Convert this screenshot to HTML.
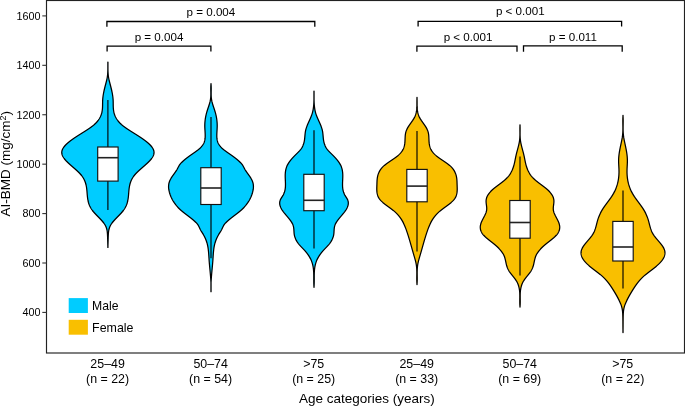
<!DOCTYPE html>
<html><head><meta charset="utf-8"><style>
html,body{margin:0;padding:0;background:#fff;}
body{width:685px;height:406px;overflow:hidden;}
svg{display:block;will-change:transform;font-family:"Liberation Sans",sans-serif;}
text{fill:#000;}
</style></head><body>
<svg width="685" height="406" viewBox="0 0 685 406">
<rect x="0" y="0" width="685" height="406" fill="#fff"/>
<path d="M107.94,62.00 L107.94,62.50 L107.94,63.00 L107.94,63.50 L107.94,64.00 L107.94,64.50 L107.94,65.00 L107.94,65.50 L107.94,66.00 L107.94,66.50 L107.94,67.00 L107.94,67.50 L107.94,68.00 L107.94,68.50 L107.94,69.00 L107.95,69.50 L107.96,70.00 L107.97,70.50 L107.98,71.00 L108.00,71.50 L108.02,72.00 L108.05,72.50 L108.08,73.00 L108.11,73.50 L108.15,74.00 L108.19,74.50 L108.24,75.00 L108.29,75.50 L108.35,76.00 L108.42,76.50 L108.49,77.00 L108.57,77.50 L108.66,78.00 L108.76,78.50 L108.86,79.00 L108.96,79.50 L109.07,80.00 L109.19,80.50 L109.31,81.00 L109.43,81.50 L109.56,82.00 L109.69,82.50 L109.82,83.00 L109.95,83.50 L110.08,84.00 L110.21,84.50 L110.34,85.00 L110.48,85.50 L110.61,86.00 L110.74,86.50 L110.86,87.00 L110.99,87.50 L111.11,88.00 L111.24,88.50 L111.36,89.00 L111.47,89.50 L111.59,90.00 L111.70,90.50 L111.81,91.00 L111.92,91.50 L112.02,92.00 L112.13,92.50 L112.22,93.00 L112.32,93.50 L112.41,94.00 L112.49,94.50 L112.57,95.00 L112.65,95.50 L112.72,96.00 L112.79,96.50 L112.85,97.00 L112.91,97.50 L112.97,98.00 L113.01,98.50 L113.05,99.00 L113.09,99.50 L113.12,100.00 L113.15,100.50 L113.16,101.00 L113.18,101.50 L113.19,102.00 L113.20,102.50 L113.20,103.00 L113.21,103.50 L113.21,104.00 L113.22,104.50 L113.22,105.00 L113.23,105.50 L113.24,106.00 L113.25,106.50 L113.27,107.00 L113.29,107.50 L113.32,108.00 L113.36,108.50 L113.40,109.00 L113.45,109.50 L113.51,110.00 L113.58,110.50 L113.66,111.00 L113.75,111.50 L113.85,112.00 L113.96,112.50 L114.09,113.00 L114.22,113.50 L114.38,114.00 L114.54,114.50 L114.72,115.00 L114.91,115.50 L115.12,116.00 L115.34,116.50 L115.58,117.00 L115.84,117.50 L116.11,118.00 L116.40,118.50 L116.71,119.00 L117.04,119.50 L117.38,120.00 L117.75,120.50 L118.13,121.00 L118.54,121.50 L118.96,122.00 L119.41,122.50 L119.88,123.00 L120.38,123.50 L120.90,124.00 L121.44,124.50 L122.01,125.00 L122.61,125.50 L123.23,126.00 L123.88,126.50 L124.55,127.00 L125.23,127.50 L125.94,128.00 L126.66,128.50 L127.40,129.00 L128.15,129.50 L128.92,130.00 L129.69,130.50 L130.47,131.00 L131.26,131.50 L132.06,132.00 L132.86,132.50 L133.66,133.00 L134.46,133.50 L135.26,134.00 L136.06,134.50 L136.85,135.00 L137.64,135.50 L138.42,136.00 L139.19,136.50 L139.95,137.00 L140.71,137.50 L141.45,138.00 L142.18,138.50 L142.90,139.00 L143.60,139.50 L144.29,140.00 L144.96,140.50 L145.62,141.00 L146.26,141.50 L146.88,142.00 L147.49,142.50 L148.07,143.00 L148.63,143.50 L149.17,144.00 L149.69,144.50 L150.18,145.00 L150.64,145.50 L151.09,146.00 L151.50,146.50 L151.89,147.00 L152.25,147.50 L152.57,148.00 L152.87,148.50 L153.14,149.00 L153.37,149.50 L153.57,150.00 L153.74,150.50 L153.87,151.00 L153.96,151.50 L154.02,152.00 L154.04,152.50 L154.02,153.00 L153.96,153.50 L153.87,154.00 L153.74,154.50 L153.58,155.00 L153.39,155.50 L153.16,156.00 L152.90,156.50 L152.62,157.00 L152.31,157.50 L151.97,158.00 L151.61,158.50 L151.23,159.00 L150.82,159.50 L150.39,160.00 L149.95,160.50 L149.49,161.00 L149.00,161.50 L148.51,162.00 L148.00,162.50 L147.48,163.00 L146.95,163.50 L146.40,164.00 L145.85,164.50 L145.29,165.00 L144.73,165.50 L144.16,166.00 L143.59,166.50 L143.01,167.00 L142.44,167.50 L141.87,168.00 L141.29,168.50 L140.73,169.00 L140.16,169.50 L139.60,170.00 L139.05,170.50 L138.51,171.00 L137.98,171.50 L137.46,172.00 L136.95,172.50 L136.46,173.00 L135.98,173.50 L135.52,174.00 L135.08,174.50 L134.65,175.00 L134.25,175.50 L133.87,176.00 L133.50,176.50 L133.16,177.00 L132.83,177.50 L132.52,178.00 L132.23,178.50 L131.95,179.00 L131.69,179.50 L131.45,180.00 L131.22,180.50 L131.01,181.00 L130.81,181.50 L130.62,182.00 L130.45,182.50 L130.28,183.00 L130.13,183.50 L129.99,184.00 L129.86,184.50 L129.74,185.00 L129.63,185.50 L129.53,186.00 L129.44,186.50 L129.35,187.00 L129.27,187.50 L129.20,188.00 L129.13,188.50 L129.07,189.00 L129.02,189.50 L128.96,190.00 L128.91,190.50 L128.87,191.00 L128.82,191.50 L128.78,192.00 L128.74,192.50 L128.70,193.00 L128.66,193.50 L128.62,194.00 L128.58,194.50 L128.54,195.00 L128.49,195.50 L128.45,196.00 L128.40,196.50 L128.34,197.00 L128.28,197.50 L128.22,198.00 L128.15,198.50 L128.07,199.00 L127.99,199.50 L127.90,200.00 L127.80,200.50 L127.70,201.00 L127.58,201.50 L127.46,202.00 L127.33,202.50 L127.18,203.00 L127.03,203.50 L126.86,204.00 L126.68,204.50 L126.48,205.00 L126.28,205.50 L126.06,206.00 L125.82,206.50 L125.57,207.00 L125.31,207.50 L125.02,208.00 L124.73,208.50 L124.41,209.00 L124.07,209.50 L123.72,210.00 L123.35,210.50 L122.96,211.00 L122.56,211.50 L122.13,212.00 L121.70,212.50 L121.26,213.00 L120.80,213.50 L120.33,214.00 L119.86,214.50 L119.38,215.00 L118.90,215.50 L118.41,216.00 L117.92,216.50 L117.43,217.00 L116.94,217.50 L116.46,218.00 L115.98,218.50 L115.50,219.00 L115.03,219.50 L114.57,220.00 L114.12,220.50 L113.68,221.00 L113.25,221.50 L112.83,222.00 L112.43,222.50 L112.05,223.00 L111.69,223.50 L111.34,224.00 L111.02,224.50 L110.72,225.00 L110.44,225.50 L110.19,226.00 L109.95,226.50 L109.74,227.00 L109.55,227.50 L109.38,228.00 L109.22,228.50 L109.08,229.00 L108.96,229.50 L108.85,230.00 L108.75,230.50 L108.67,231.00 L108.59,231.50 L108.53,232.00 L108.47,232.50 L108.43,233.00 L108.39,233.50 L108.35,234.00 L108.32,234.50 L108.29,235.00 L108.27,235.50 L108.24,236.00 L108.22,236.50 L108.20,237.00 L108.18,237.50 L108.17,238.00 L108.15,238.50 L108.14,239.00 L108.12,239.50 L108.11,240.00 L108.10,240.50 L108.09,241.00 L108.07,241.50 L108.06,242.00 L108.05,242.50 L108.03,243.00 L108.02,243.50 L108.01,244.00 L107.99,244.50 L107.97,245.00 L107.96,245.50 L107.94,246.00 L107.94,246.50 L107.94,247.00 L107.94,247.40 L107.86,247.40 L107.86,247.00 L107.86,246.50 L107.86,246.00 L107.84,245.50 L107.83,245.00 L107.81,244.50 L107.79,244.00 L107.78,243.50 L107.77,243.00 L107.75,242.50 L107.74,242.00 L107.73,241.50 L107.71,241.00 L107.70,240.50 L107.69,240.00 L107.68,239.50 L107.66,239.00 L107.65,238.50 L107.63,238.00 L107.62,237.50 L107.60,237.00 L107.58,236.50 L107.56,236.00 L107.53,235.50 L107.51,235.00 L107.48,234.50 L107.45,234.00 L107.41,233.50 L107.37,233.00 L107.33,232.50 L107.27,232.00 L107.21,231.50 L107.13,231.00 L107.05,230.50 L106.95,230.00 L106.84,229.50 L106.72,229.00 L106.58,228.50 L106.42,228.00 L106.25,227.50 L106.06,227.00 L105.85,226.50 L105.61,226.00 L105.36,225.50 L105.08,225.00 L104.78,224.50 L104.46,224.00 L104.11,223.50 L103.75,223.00 L103.37,222.50 L102.97,222.00 L102.55,221.50 L102.12,221.00 L101.68,220.50 L101.23,220.00 L100.77,219.50 L100.30,219.00 L99.82,218.50 L99.34,218.00 L98.86,217.50 L98.37,217.00 L97.88,216.50 L97.39,216.00 L96.90,215.50 L96.42,215.00 L95.94,214.50 L95.47,214.00 L95.00,213.50 L94.54,213.00 L94.10,212.50 L93.67,212.00 L93.24,211.50 L92.84,211.00 L92.45,210.50 L92.08,210.00 L91.73,209.50 L91.39,209.00 L91.07,208.50 L90.78,208.00 L90.49,207.50 L90.23,207.00 L89.98,206.50 L89.74,206.00 L89.52,205.50 L89.32,205.00 L89.12,204.50 L88.94,204.00 L88.77,203.50 L88.62,203.00 L88.47,202.50 L88.34,202.00 L88.22,201.50 L88.10,201.00 L88.00,200.50 L87.90,200.00 L87.81,199.50 L87.73,199.00 L87.65,198.50 L87.58,198.00 L87.52,197.50 L87.46,197.00 L87.40,196.50 L87.35,196.00 L87.31,195.50 L87.26,195.00 L87.22,194.50 L87.18,194.00 L87.14,193.50 L87.10,193.00 L87.06,192.50 L87.02,192.00 L86.98,191.50 L86.93,191.00 L86.89,190.50 L86.84,190.00 L86.78,189.50 L86.73,189.00 L86.67,188.50 L86.60,188.00 L86.53,187.50 L86.45,187.00 L86.36,186.50 L86.27,186.00 L86.17,185.50 L86.06,185.00 L85.94,184.50 L85.81,184.00 L85.67,183.50 L85.52,183.00 L85.35,182.50 L85.18,182.00 L84.99,181.50 L84.79,181.00 L84.58,180.50 L84.35,180.00 L84.11,179.50 L83.85,179.00 L83.57,178.50 L83.28,178.00 L82.97,177.50 L82.64,177.00 L82.30,176.50 L81.93,176.00 L81.55,175.50 L81.15,175.00 L80.72,174.50 L80.28,174.00 L79.82,173.50 L79.34,173.00 L78.85,172.50 L78.34,172.00 L77.82,171.50 L77.29,171.00 L76.75,170.50 L76.20,170.00 L75.64,169.50 L75.07,169.00 L74.51,168.50 L73.93,168.00 L73.36,167.50 L72.79,167.00 L72.21,166.50 L71.64,166.00 L71.07,165.50 L70.51,165.00 L69.95,164.50 L69.40,164.00 L68.85,163.50 L68.32,163.00 L67.80,162.50 L67.29,162.00 L66.80,161.50 L66.31,161.00 L65.85,160.50 L65.41,160.00 L64.98,159.50 L64.57,159.00 L64.19,158.50 L63.83,158.00 L63.49,157.50 L63.18,157.00 L62.90,156.50 L62.64,156.00 L62.41,155.50 L62.22,155.00 L62.06,154.50 L61.93,154.00 L61.84,153.50 L61.78,153.00 L61.76,152.50 L61.78,152.00 L61.84,151.50 L61.93,151.00 L62.06,150.50 L62.23,150.00 L62.43,149.50 L62.66,149.00 L62.93,148.50 L63.23,148.00 L63.55,147.50 L63.91,147.00 L64.30,146.50 L64.71,146.00 L65.16,145.50 L65.62,145.00 L66.11,144.50 L66.63,144.00 L67.17,143.50 L67.73,143.00 L68.31,142.50 L68.92,142.00 L69.54,141.50 L70.18,141.00 L70.84,140.50 L71.51,140.00 L72.20,139.50 L72.90,139.00 L73.62,138.50 L74.35,138.00 L75.09,137.50 L75.85,137.00 L76.61,136.50 L77.38,136.00 L78.16,135.50 L78.95,135.00 L79.74,134.50 L80.54,134.00 L81.34,133.50 L82.14,133.00 L82.94,132.50 L83.74,132.00 L84.54,131.50 L85.33,131.00 L86.11,130.50 L86.88,130.00 L87.65,129.50 L88.40,129.00 L89.14,128.50 L89.86,128.00 L90.57,127.50 L91.25,127.00 L91.92,126.50 L92.57,126.00 L93.19,125.50 L93.79,125.00 L94.36,124.50 L94.90,124.00 L95.42,123.50 L95.92,123.00 L96.39,122.50 L96.84,122.00 L97.26,121.50 L97.67,121.00 L98.05,120.50 L98.42,120.00 L98.76,119.50 L99.09,119.00 L99.40,118.50 L99.69,118.00 L99.96,117.50 L100.22,117.00 L100.46,116.50 L100.68,116.00 L100.89,115.50 L101.08,115.00 L101.26,114.50 L101.42,114.00 L101.58,113.50 L101.71,113.00 L101.84,112.50 L101.95,112.00 L102.05,111.50 L102.14,111.00 L102.22,110.50 L102.29,110.00 L102.35,109.50 L102.40,109.00 L102.44,108.50 L102.48,108.00 L102.51,107.50 L102.53,107.00 L102.55,106.50 L102.56,106.00 L102.57,105.50 L102.58,105.00 L102.58,104.50 L102.59,104.00 L102.59,103.50 L102.60,103.00 L102.60,102.50 L102.61,102.00 L102.62,101.50 L102.64,101.00 L102.65,100.50 L102.68,100.00 L102.71,99.50 L102.75,99.00 L102.79,98.50 L102.83,98.00 L102.89,97.50 L102.95,97.00 L103.01,96.50 L103.08,96.00 L103.15,95.50 L103.23,95.00 L103.31,94.50 L103.39,94.00 L103.48,93.50 L103.58,93.00 L103.67,92.50 L103.78,92.00 L103.88,91.50 L103.99,91.00 L104.10,90.50 L104.21,90.00 L104.33,89.50 L104.44,89.00 L104.56,88.50 L104.69,88.00 L104.81,87.50 L104.94,87.00 L105.06,86.50 L105.19,86.00 L105.32,85.50 L105.46,85.00 L105.59,84.50 L105.72,84.00 L105.85,83.50 L105.98,83.00 L106.11,82.50 L106.24,82.00 L106.37,81.50 L106.49,81.00 L106.61,80.50 L106.73,80.00 L106.84,79.50 L106.94,79.00 L107.04,78.50 L107.14,78.00 L107.23,77.50 L107.31,77.00 L107.38,76.50 L107.45,76.00 L107.51,75.50 L107.56,75.00 L107.61,74.50 L107.65,74.00 L107.69,73.50 L107.72,73.00 L107.75,72.50 L107.78,72.00 L107.80,71.50 L107.82,71.00 L107.83,70.50 L107.84,70.00 L107.85,69.50 L107.86,69.00 L107.86,68.50 L107.86,68.00 L107.86,67.50 L107.86,67.00 L107.86,66.50 L107.86,66.00 L107.86,65.50 L107.86,65.00 L107.86,64.50 L107.86,64.00 L107.86,63.50 L107.86,63.00 L107.86,62.50 L107.86,62.00 Z" fill="#00CCFF" stroke="#000" stroke-width="1.25" stroke-linejoin="round"/>
<line x1="107.90" y1="100.10" x2="107.90" y2="209.90" stroke="#000" stroke-width="1.15"/>
<rect x="97.70" y="147.00" width="20.40" height="34.10" fill="#fff" stroke="#111" stroke-width="1.15"/>
<line x1="97.70" y1="157.70" x2="118.10" y2="157.70" stroke="#222" stroke-width="1.6"/>
<path d="M211.04,83.70 L211.04,84.20 L211.07,84.70 L211.11,85.20 L211.14,85.70 L211.16,86.20 L211.18,86.70 L211.19,87.20 L211.20,87.70 L211.20,88.20 L211.20,88.70 L211.20,89.20 L211.20,89.70 L211.19,90.20 L211.18,90.70 L211.17,91.20 L211.17,91.70 L211.16,92.20 L211.15,92.70 L211.15,93.20 L211.15,93.70 L211.15,94.20 L211.16,94.70 L211.17,95.20 L211.18,95.70 L211.20,96.20 L211.23,96.70 L211.26,97.20 L211.31,97.70 L211.36,98.20 L211.41,98.70 L211.48,99.20 L211.56,99.70 L211.65,100.20 L211.75,100.70 L211.85,101.20 L211.97,101.70 L212.10,102.20 L212.23,102.70 L212.37,103.20 L212.52,103.70 L212.67,104.20 L212.83,104.70 L212.99,105.20 L213.15,105.70 L213.31,106.20 L213.48,106.70 L213.65,107.20 L213.82,107.70 L213.99,108.20 L214.15,108.70 L214.32,109.20 L214.48,109.70 L214.64,110.20 L214.79,110.70 L214.94,111.20 L215.09,111.70 L215.23,112.20 L215.37,112.70 L215.50,113.20 L215.63,113.70 L215.75,114.20 L215.87,114.70 L215.99,115.20 L216.10,115.70 L216.21,116.20 L216.31,116.70 L216.40,117.20 L216.49,117.70 L216.58,118.20 L216.66,118.70 L216.73,119.20 L216.80,119.70 L216.87,120.20 L216.93,120.70 L216.98,121.20 L217.03,121.70 L217.07,122.20 L217.11,122.70 L217.14,123.20 L217.16,123.70 L217.18,124.20 L217.19,124.70 L217.20,125.20 L217.20,125.70 L217.20,126.20 L217.19,126.70 L217.17,127.20 L217.16,127.70 L217.13,128.20 L217.11,128.70 L217.09,129.20 L217.06,129.70 L217.03,130.20 L217.00,130.70 L216.97,131.20 L216.94,131.70 L216.92,132.20 L216.89,132.70 L216.87,133.20 L216.85,133.70 L216.83,134.20 L216.82,134.70 L216.81,135.20 L216.81,135.70 L216.81,136.20 L216.82,136.70 L216.84,137.20 L216.87,137.70 L216.91,138.20 L216.96,138.70 L217.03,139.20 L217.11,139.70 L217.21,140.20 L217.33,140.70 L217.47,141.20 L217.62,141.70 L217.80,142.20 L218.00,142.70 L218.22,143.20 L218.47,143.70 L218.75,144.20 L219.05,144.70 L219.38,145.20 L219.75,145.70 L220.14,146.20 L220.56,146.70 L221.02,147.20 L221.52,147.70 L222.05,148.20 L222.61,148.70 L223.20,149.20 L223.81,149.70 L224.45,150.20 L225.11,150.70 L225.79,151.20 L226.48,151.70 L227.18,152.20 L227.89,152.70 L228.61,153.20 L229.33,153.70 L230.05,154.20 L230.77,154.70 L231.48,155.20 L232.18,155.70 L232.87,156.20 L233.56,156.70 L234.23,157.20 L234.89,157.70 L235.54,158.20 L236.17,158.70 L236.79,159.20 L237.39,159.70 L237.97,160.20 L238.54,160.70 L239.08,161.20 L239.61,161.70 L240.11,162.20 L240.59,162.70 L241.05,163.20 L241.48,163.70 L241.88,164.20 L242.26,164.70 L242.61,165.20 L242.94,165.70 L243.24,166.20 L243.52,166.70 L243.79,167.20 L244.06,167.70 L244.31,168.20 L244.57,168.70 L244.84,169.20 L245.11,169.70 L245.40,170.20 L245.70,170.70 L246.02,171.20 L246.35,171.70 L246.69,172.20 L247.04,172.70 L247.39,173.20 L247.75,173.70 L248.12,174.20 L248.48,174.70 L248.84,175.20 L249.20,175.70 L249.56,176.20 L249.91,176.70 L250.24,177.20 L250.57,177.70 L250.89,178.20 L251.19,178.70 L251.47,179.20 L251.74,179.70 L251.99,180.20 L252.21,180.70 L252.42,181.20 L252.60,181.70 L252.76,182.20 L252.91,182.70 L253.04,183.20 L253.14,183.70 L253.23,184.20 L253.30,184.70 L253.36,185.20 L253.40,185.70 L253.42,186.20 L253.43,186.70 L253.42,187.20 L253.40,187.70 L253.36,188.20 L253.31,188.70 L253.25,189.20 L253.17,189.70 L253.08,190.20 L252.98,190.70 L252.87,191.20 L252.75,191.70 L252.62,192.20 L252.47,192.70 L252.32,193.20 L252.16,193.70 L251.99,194.20 L251.82,194.70 L251.63,195.20 L251.44,195.70 L251.24,196.20 L251.04,196.70 L250.82,197.20 L250.60,197.70 L250.36,198.20 L250.12,198.70 L249.87,199.20 L249.61,199.70 L249.33,200.20 L249.05,200.70 L248.75,201.20 L248.45,201.70 L248.13,202.20 L247.80,202.70 L247.45,203.20 L247.09,203.70 L246.72,204.20 L246.34,204.70 L245.94,205.20 L245.53,205.70 L245.10,206.20 L244.65,206.70 L244.20,207.20 L243.72,207.70 L243.23,208.20 L242.72,208.70 L242.19,209.20 L241.65,209.70 L241.09,210.20 L240.51,210.70 L239.92,211.20 L239.31,211.70 L238.69,212.20 L238.06,212.70 L237.42,213.20 L236.77,213.70 L236.12,214.20 L235.46,214.70 L234.81,215.20 L234.15,215.70 L233.49,216.20 L232.84,216.70 L232.19,217.20 L231.55,217.70 L230.91,218.20 L230.29,218.70 L229.68,219.20 L229.08,219.70 L228.49,220.20 L227.93,220.70 L227.38,221.20 L226.85,221.70 L226.34,222.20 L225.86,222.70 L225.40,223.20 L224.97,223.70 L224.57,224.20 L224.20,224.70 L223.86,225.20 L223.55,225.70 L223.27,226.20 L223.01,226.70 L222.76,227.20 L222.53,227.70 L222.30,228.20 L222.07,228.70 L221.83,229.20 L221.59,229.70 L221.33,230.20 L221.05,230.70 L220.76,231.20 L220.46,231.70 L220.15,232.20 L219.84,232.70 L219.52,233.20 L219.20,233.70 L218.89,234.20 L218.58,234.70 L218.29,235.20 L218.00,235.70 L217.73,236.20 L217.47,236.70 L217.22,237.20 L216.98,237.70 L216.75,238.20 L216.53,238.70 L216.32,239.20 L216.12,239.70 L215.93,240.20 L215.74,240.70 L215.57,241.20 L215.41,241.70 L215.25,242.20 L215.10,242.70 L214.96,243.20 L214.82,243.70 L214.70,244.20 L214.58,244.70 L214.47,245.20 L214.36,245.70 L214.26,246.20 L214.17,246.70 L214.08,247.20 L213.99,247.70 L213.91,248.20 L213.84,248.70 L213.77,249.20 L213.71,249.70 L213.65,250.20 L213.59,250.70 L213.54,251.20 L213.49,251.70 L213.44,252.20 L213.40,252.70 L213.35,253.20 L213.31,253.70 L213.28,254.20 L213.24,254.70 L213.21,255.20 L213.17,255.70 L213.14,256.20 L213.11,256.70 L213.08,257.20 L213.05,257.70 L213.01,258.20 L212.98,258.70 L212.95,259.20 L212.92,259.70 L212.88,260.20 L212.85,260.70 L212.81,261.20 L212.77,261.70 L212.73,262.20 L212.69,262.70 L212.65,263.20 L212.61,263.70 L212.56,264.20 L212.52,264.70 L212.47,265.20 L212.43,265.70 L212.38,266.20 L212.34,266.70 L212.29,267.20 L212.24,267.70 L212.20,268.20 L212.15,268.70 L212.10,269.20 L212.05,269.70 L212.01,270.20 L211.96,270.70 L211.91,271.20 L211.86,271.70 L211.82,272.20 L211.77,272.70 L211.73,273.20 L211.68,273.70 L211.64,274.20 L211.59,274.70 L211.55,275.20 L211.51,275.70 L211.46,276.20 L211.42,276.70 L211.38,277.20 L211.35,277.70 L211.31,278.20 L211.27,278.70 L211.24,279.20 L211.20,279.70 L211.17,280.20 L211.14,280.70 L211.11,281.20 L211.08,281.70 L211.06,282.20 L211.04,282.70 L211.04,283.20 L211.04,283.70 L211.04,284.20 L211.04,284.70 L211.04,285.20 L211.04,285.70 L211.04,286.20 L211.04,286.70 L211.04,287.20 L211.04,287.70 L211.04,288.20 L211.04,288.70 L211.04,289.20 L211.04,289.70 L211.04,290.20 L211.04,290.70 L211.04,291.20 L211.04,291.70 L210.96,291.70 L210.96,291.20 L210.96,290.70 L210.96,290.20 L210.96,289.70 L210.96,289.20 L210.96,288.70 L210.96,288.20 L210.96,287.70 L210.96,287.20 L210.96,286.70 L210.96,286.20 L210.96,285.70 L210.96,285.20 L210.96,284.70 L210.96,284.20 L210.96,283.70 L210.96,283.20 L210.96,282.70 L210.94,282.20 L210.92,281.70 L210.89,281.20 L210.86,280.70 L210.83,280.20 L210.80,279.70 L210.76,279.20 L210.73,278.70 L210.69,278.20 L210.65,277.70 L210.62,277.20 L210.58,276.70 L210.54,276.20 L210.49,275.70 L210.45,275.20 L210.41,274.70 L210.36,274.20 L210.32,273.70 L210.27,273.20 L210.23,272.70 L210.18,272.20 L210.14,271.70 L210.09,271.20 L210.04,270.70 L209.99,270.20 L209.95,269.70 L209.90,269.20 L209.85,268.70 L209.80,268.20 L209.76,267.70 L209.71,267.20 L209.66,266.70 L209.62,266.20 L209.57,265.70 L209.53,265.20 L209.48,264.70 L209.44,264.20 L209.39,263.70 L209.35,263.20 L209.31,262.70 L209.27,262.20 L209.23,261.70 L209.19,261.20 L209.15,260.70 L209.12,260.20 L209.08,259.70 L209.05,259.20 L209.02,258.70 L208.99,258.20 L208.95,257.70 L208.92,257.20 L208.89,256.70 L208.86,256.20 L208.83,255.70 L208.79,255.20 L208.76,254.70 L208.72,254.20 L208.69,253.70 L208.65,253.20 L208.60,252.70 L208.56,252.20 L208.51,251.70 L208.46,251.20 L208.41,250.70 L208.35,250.20 L208.29,249.70 L208.23,249.20 L208.16,248.70 L208.09,248.20 L208.01,247.70 L207.92,247.20 L207.83,246.70 L207.74,246.20 L207.64,245.70 L207.53,245.20 L207.42,244.70 L207.30,244.20 L207.18,243.70 L207.04,243.20 L206.90,242.70 L206.75,242.20 L206.59,241.70 L206.43,241.20 L206.26,240.70 L206.07,240.20 L205.88,239.70 L205.68,239.20 L205.47,238.70 L205.25,238.20 L205.02,237.70 L204.78,237.20 L204.53,236.70 L204.27,236.20 L204.00,235.70 L203.71,235.20 L203.42,234.70 L203.11,234.20 L202.80,233.70 L202.48,233.20 L202.16,232.70 L201.85,232.20 L201.54,231.70 L201.24,231.20 L200.95,230.70 L200.67,230.20 L200.41,229.70 L200.17,229.20 L199.93,228.70 L199.70,228.20 L199.47,227.70 L199.24,227.20 L198.99,226.70 L198.73,226.20 L198.45,225.70 L198.14,225.20 L197.80,224.70 L197.43,224.20 L197.03,223.70 L196.60,223.20 L196.14,222.70 L195.66,222.20 L195.15,221.70 L194.62,221.20 L194.07,220.70 L193.51,220.20 L192.92,219.70 L192.32,219.20 L191.71,218.70 L191.09,218.20 L190.45,217.70 L189.81,217.20 L189.16,216.70 L188.51,216.20 L187.85,215.70 L187.19,215.20 L186.54,214.70 L185.88,214.20 L185.23,213.70 L184.58,213.20 L183.94,212.70 L183.31,212.20 L182.69,211.70 L182.08,211.20 L181.49,210.70 L180.91,210.20 L180.35,209.70 L179.81,209.20 L179.28,208.70 L178.77,208.20 L178.28,207.70 L177.80,207.20 L177.35,206.70 L176.90,206.20 L176.47,205.70 L176.06,205.20 L175.66,204.70 L175.28,204.20 L174.91,203.70 L174.55,203.20 L174.20,202.70 L173.87,202.20 L173.55,201.70 L173.25,201.20 L172.95,200.70 L172.67,200.20 L172.39,199.70 L172.13,199.20 L171.88,198.70 L171.64,198.20 L171.40,197.70 L171.18,197.20 L170.96,196.70 L170.76,196.20 L170.56,195.70 L170.37,195.20 L170.18,194.70 L170.01,194.20 L169.84,193.70 L169.68,193.20 L169.53,192.70 L169.38,192.20 L169.25,191.70 L169.13,191.20 L169.02,190.70 L168.92,190.20 L168.83,189.70 L168.75,189.20 L168.69,188.70 L168.64,188.20 L168.60,187.70 L168.58,187.20 L168.57,186.70 L168.58,186.20 L168.60,185.70 L168.64,185.20 L168.70,184.70 L168.77,184.20 L168.86,183.70 L168.96,183.20 L169.09,182.70 L169.24,182.20 L169.40,181.70 L169.58,181.20 L169.79,180.70 L170.01,180.20 L170.26,179.70 L170.53,179.20 L170.81,178.70 L171.11,178.20 L171.43,177.70 L171.76,177.20 L172.09,176.70 L172.44,176.20 L172.80,175.70 L173.16,175.20 L173.52,174.70 L173.88,174.20 L174.25,173.70 L174.61,173.20 L174.96,172.70 L175.31,172.20 L175.65,171.70 L175.98,171.20 L176.30,170.70 L176.60,170.20 L176.89,169.70 L177.16,169.20 L177.43,168.70 L177.69,168.20 L177.94,167.70 L178.21,167.20 L178.48,166.70 L178.76,166.20 L179.06,165.70 L179.39,165.20 L179.74,164.70 L180.12,164.20 L180.52,163.70 L180.95,163.20 L181.41,162.70 L181.89,162.20 L182.39,161.70 L182.92,161.20 L183.46,160.70 L184.03,160.20 L184.61,159.70 L185.21,159.20 L185.83,158.70 L186.46,158.20 L187.11,157.70 L187.77,157.20 L188.44,156.70 L189.13,156.20 L189.82,155.70 L190.52,155.20 L191.23,154.70 L191.95,154.20 L192.67,153.70 L193.39,153.20 L194.11,152.70 L194.82,152.20 L195.52,151.70 L196.21,151.20 L196.89,150.70 L197.55,150.20 L198.19,149.70 L198.80,149.20 L199.39,148.70 L199.95,148.20 L200.48,147.70 L200.98,147.20 L201.44,146.70 L201.86,146.20 L202.25,145.70 L202.62,145.20 L202.95,144.70 L203.25,144.20 L203.53,143.70 L203.78,143.20 L204.00,142.70 L204.20,142.20 L204.38,141.70 L204.53,141.20 L204.67,140.70 L204.79,140.20 L204.89,139.70 L204.97,139.20 L205.04,138.70 L205.09,138.20 L205.13,137.70 L205.16,137.20 L205.18,136.70 L205.19,136.20 L205.19,135.70 L205.19,135.20 L205.18,134.70 L205.17,134.20 L205.15,133.70 L205.13,133.20 L205.11,132.70 L205.08,132.20 L205.06,131.70 L205.03,131.20 L205.00,130.70 L204.97,130.20 L204.94,129.70 L204.91,129.20 L204.89,128.70 L204.87,128.20 L204.84,127.70 L204.83,127.20 L204.81,126.70 L204.80,126.20 L204.80,125.70 L204.80,125.20 L204.81,124.70 L204.82,124.20 L204.84,123.70 L204.86,123.20 L204.89,122.70 L204.93,122.20 L204.97,121.70 L205.02,121.20 L205.07,120.70 L205.13,120.20 L205.20,119.70 L205.27,119.20 L205.34,118.70 L205.42,118.20 L205.51,117.70 L205.60,117.20 L205.69,116.70 L205.79,116.20 L205.90,115.70 L206.01,115.20 L206.13,114.70 L206.25,114.20 L206.37,113.70 L206.50,113.20 L206.63,112.70 L206.77,112.20 L206.91,111.70 L207.06,111.20 L207.21,110.70 L207.36,110.20 L207.52,109.70 L207.68,109.20 L207.85,108.70 L208.01,108.20 L208.18,107.70 L208.35,107.20 L208.52,106.70 L208.69,106.20 L208.85,105.70 L209.01,105.20 L209.17,104.70 L209.33,104.20 L209.48,103.70 L209.63,103.20 L209.77,102.70 L209.90,102.20 L210.03,101.70 L210.15,101.20 L210.25,100.70 L210.35,100.20 L210.44,99.70 L210.52,99.20 L210.59,98.70 L210.64,98.20 L210.69,97.70 L210.74,97.20 L210.77,96.70 L210.80,96.20 L210.82,95.70 L210.83,95.20 L210.84,94.70 L210.85,94.20 L210.85,93.70 L210.85,93.20 L210.85,92.70 L210.84,92.20 L210.83,91.70 L210.83,91.20 L210.82,90.70 L210.81,90.20 L210.80,89.70 L210.80,89.20 L210.80,88.70 L210.80,88.20 L210.80,87.70 L210.81,87.20 L210.82,86.70 L210.84,86.20 L210.86,85.70 L210.89,85.20 L210.93,84.70 L210.96,84.20 L210.96,83.70 Z" fill="#00CCFF" stroke="#000" stroke-width="1.25" stroke-linejoin="round"/>
<line x1="211.00" y1="117.10" x2="211.00" y2="258.20" stroke="#000" stroke-width="1.15"/>
<rect x="200.80" y="167.70" width="20.40" height="36.80" fill="#fff" stroke="#111" stroke-width="1.15"/>
<line x1="200.80" y1="188.00" x2="221.20" y2="188.00" stroke="#222" stroke-width="1.6"/>
<path d="M314.04,91.10 L314.04,91.60 L314.04,92.10 L314.04,92.60 L314.04,93.10 L314.04,93.60 L314.04,94.10 L314.04,94.60 L314.04,95.10 L314.04,95.60 L314.04,96.10 L314.04,96.60 L314.04,97.10 L314.04,97.60 L314.04,98.10 L314.04,98.60 L314.04,99.10 L314.04,99.60 L314.05,100.10 L314.06,100.60 L314.08,101.10 L314.09,101.60 L314.11,102.10 L314.13,102.60 L314.16,103.10 L314.19,103.60 L314.22,104.10 L314.25,104.60 L314.29,105.10 L314.34,105.60 L314.39,106.10 L314.44,106.60 L314.50,107.10 L314.57,107.60 L314.64,108.10 L314.71,108.60 L314.79,109.10 L314.88,109.60 L314.97,110.10 L315.08,110.60 L315.18,111.10 L315.30,111.60 L315.42,112.10 L315.55,112.60 L315.69,113.10 L315.83,113.60 L315.99,114.10 L316.15,114.60 L316.32,115.10 L316.50,115.60 L316.68,116.10 L316.88,116.60 L317.08,117.10 L317.29,117.60 L317.50,118.10 L317.72,118.60 L317.94,119.10 L318.16,119.60 L318.39,120.10 L318.61,120.60 L318.84,121.10 L319.07,121.60 L319.30,122.10 L319.52,122.60 L319.75,123.10 L319.97,123.60 L320.19,124.10 L320.41,124.60 L320.62,125.10 L320.82,125.60 L321.02,126.10 L321.21,126.60 L321.39,127.10 L321.57,127.60 L321.73,128.10 L321.89,128.60 L322.04,129.10 L322.17,129.60 L322.30,130.10 L322.41,130.60 L322.51,131.10 L322.60,131.60 L322.68,132.10 L322.75,132.60 L322.81,133.10 L322.87,133.60 L322.92,134.10 L322.97,134.60 L323.02,135.10 L323.07,135.60 L323.11,136.10 L323.15,136.60 L323.20,137.10 L323.24,137.60 L323.29,138.10 L323.35,138.60 L323.40,139.10 L323.47,139.60 L323.54,140.10 L323.62,140.60 L323.71,141.10 L323.81,141.60 L323.92,142.10 L324.04,142.60 L324.17,143.10 L324.32,143.60 L324.48,144.10 L324.66,144.60 L324.85,145.10 L325.06,145.60 L325.29,146.10 L325.54,146.60 L325.80,147.10 L326.09,147.60 L326.40,148.10 L326.73,148.60 L327.08,149.10 L327.46,149.60 L327.87,150.10 L328.29,150.60 L328.74,151.10 L329.21,151.60 L329.70,152.10 L330.19,152.60 L330.70,153.10 L331.20,153.60 L331.72,154.10 L332.23,154.60 L332.73,155.10 L333.23,155.60 L333.72,156.10 L334.20,156.60 L334.68,157.10 L335.14,157.60 L335.59,158.10 L336.04,158.60 L336.47,159.10 L336.89,159.60 L337.30,160.10 L337.70,160.60 L338.08,161.10 L338.45,161.60 L338.80,162.10 L339.14,162.60 L339.46,163.10 L339.77,163.60 L340.06,164.10 L340.34,164.60 L340.60,165.10 L340.84,165.60 L341.06,166.10 L341.26,166.60 L341.45,167.10 L341.63,167.60 L341.79,168.10 L341.93,168.60 L342.06,169.10 L342.18,169.60 L342.29,170.10 L342.38,170.60 L342.46,171.10 L342.53,171.60 L342.59,172.10 L342.65,172.60 L342.69,173.10 L342.72,173.60 L342.75,174.10 L342.77,174.60 L342.78,175.10 L342.79,175.60 L342.79,176.10 L342.78,176.60 L342.78,177.10 L342.76,177.60 L342.75,178.10 L342.73,178.60 L342.71,179.10 L342.69,179.60 L342.67,180.10 L342.65,180.60 L342.62,181.10 L342.60,181.60 L342.58,182.10 L342.57,182.60 L342.55,183.10 L342.54,183.60 L342.54,184.10 L342.53,184.60 L342.54,185.10 L342.55,185.60 L342.56,186.10 L342.58,186.60 L342.62,187.10 L342.66,187.60 L342.71,188.10 L342.77,188.60 L342.84,189.10 L342.92,189.60 L343.02,190.10 L343.13,190.60 L343.25,191.10 L343.39,191.60 L343.55,192.10 L343.72,192.60 L343.92,193.10 L344.13,193.60 L344.35,194.10 L344.60,194.60 L344.87,195.10 L345.17,195.60 L345.47,196.10 L345.78,196.60 L346.10,197.10 L346.42,197.60 L346.72,198.10 L347.02,198.60 L347.29,199.10 L347.53,199.60 L347.75,200.10 L347.93,200.60 L348.07,201.10 L348.19,201.60 L348.26,202.10 L348.31,202.60 L348.32,203.10 L348.31,203.60 L348.26,204.10 L348.19,204.60 L348.09,205.10 L347.97,205.60 L347.82,206.10 L347.64,206.60 L347.44,207.10 L347.22,207.60 L346.98,208.10 L346.71,208.60 L346.43,209.10 L346.13,209.60 L345.81,210.10 L345.47,210.60 L345.12,211.10 L344.76,211.60 L344.38,212.10 L344.00,212.60 L343.60,213.10 L343.19,213.60 L342.78,214.10 L342.37,214.60 L341.95,215.10 L341.52,215.60 L341.10,216.10 L340.68,216.60 L340.26,217.10 L339.84,217.60 L339.43,218.10 L339.02,218.60 L338.63,219.10 L338.24,219.60 L337.86,220.10 L337.49,220.60 L337.14,221.10 L336.80,221.60 L336.48,222.10 L336.18,222.60 L335.89,223.10 L335.63,223.60 L335.39,224.10 L335.17,224.60 L334.98,225.10 L334.81,225.60 L334.66,226.10 L334.54,226.60 L334.44,227.10 L334.35,227.60 L334.28,228.10 L334.22,228.60 L334.17,229.10 L334.13,229.60 L334.10,230.10 L334.07,230.60 L334.04,231.10 L334.01,231.60 L333.98,232.10 L333.95,232.60 L333.91,233.10 L333.86,233.60 L333.80,234.10 L333.73,234.60 L333.64,235.10 L333.54,235.60 L333.42,236.10 L333.28,236.60 L333.12,237.10 L332.95,237.60 L332.77,238.10 L332.56,238.60 L332.34,239.10 L332.10,239.60 L331.85,240.10 L331.57,240.60 L331.28,241.10 L330.98,241.60 L330.65,242.10 L330.31,242.60 L329.95,243.10 L329.58,243.60 L329.19,244.10 L328.78,244.60 L328.35,245.10 L327.91,245.60 L327.45,246.10 L326.98,246.60 L326.51,247.10 L326.02,247.60 L325.54,248.10 L325.06,248.60 L324.58,249.10 L324.11,249.60 L323.64,250.10 L323.19,250.60 L322.75,251.10 L322.33,251.60 L321.91,252.10 L321.51,252.60 L321.11,253.10 L320.73,253.60 L320.37,254.10 L320.01,254.60 L319.67,255.10 L319.33,255.60 L319.01,256.10 L318.70,256.60 L318.41,257.10 L318.12,257.60 L317.85,258.10 L317.59,258.60 L317.34,259.10 L317.10,259.60 L316.88,260.10 L316.67,260.60 L316.47,261.10 L316.28,261.60 L316.10,262.10 L315.93,262.60 L315.77,263.10 L315.62,263.60 L315.49,264.10 L315.36,264.60 L315.24,265.10 L315.13,265.60 L315.02,266.10 L314.93,266.60 L314.84,267.10 L314.76,267.60 L314.69,268.10 L314.62,268.60 L314.56,269.10 L314.51,269.60 L314.46,270.10 L314.42,270.60 L314.39,271.10 L314.35,271.60 L314.33,272.10 L314.30,272.60 L314.28,273.10 L314.27,273.60 L314.26,274.10 L314.25,274.60 L314.24,275.10 L314.23,275.60 L314.23,276.10 L314.23,276.60 L314.23,277.10 L314.23,277.60 L314.23,278.10 L314.23,278.60 L314.23,279.10 L314.23,279.60 L314.23,280.10 L314.23,280.60 L314.23,281.10 L314.23,281.60 L314.22,282.10 L314.21,282.60 L314.20,283.10 L314.19,283.60 L314.17,284.10 L314.15,284.60 L314.13,285.10 L314.10,285.60 L314.07,286.10 L314.04,286.60 L314.04,287.10 L314.04,287.30 L313.96,287.30 L313.96,287.10 L313.96,286.60 L313.93,286.10 L313.90,285.60 L313.87,285.10 L313.85,284.60 L313.83,284.10 L313.81,283.60 L313.80,283.10 L313.79,282.60 L313.78,282.10 L313.77,281.60 L313.77,281.10 L313.77,280.60 L313.77,280.10 L313.77,279.60 L313.77,279.10 L313.77,278.60 L313.77,278.10 L313.77,277.60 L313.77,277.10 L313.77,276.60 L313.77,276.10 L313.77,275.60 L313.76,275.10 L313.75,274.60 L313.74,274.10 L313.73,273.60 L313.72,273.10 L313.70,272.60 L313.67,272.10 L313.65,271.60 L313.61,271.10 L313.58,270.60 L313.54,270.10 L313.49,269.60 L313.44,269.10 L313.38,268.60 L313.31,268.10 L313.24,267.60 L313.16,267.10 L313.07,266.60 L312.98,266.10 L312.87,265.60 L312.76,265.10 L312.64,264.60 L312.51,264.10 L312.38,263.60 L312.23,263.10 L312.07,262.60 L311.90,262.10 L311.72,261.60 L311.53,261.10 L311.33,260.60 L311.12,260.10 L310.90,259.60 L310.66,259.10 L310.41,258.60 L310.15,258.10 L309.88,257.60 L309.59,257.10 L309.30,256.60 L308.99,256.10 L308.67,255.60 L308.33,255.10 L307.99,254.60 L307.63,254.10 L307.27,253.60 L306.89,253.10 L306.49,252.60 L306.09,252.10 L305.67,251.60 L305.25,251.10 L304.81,250.60 L304.36,250.10 L303.89,249.60 L303.42,249.10 L302.94,248.60 L302.46,248.10 L301.98,247.60 L301.49,247.10 L301.02,246.60 L300.55,246.10 L300.09,245.60 L299.65,245.10 L299.22,244.60 L298.81,244.10 L298.42,243.60 L298.05,243.10 L297.69,242.60 L297.35,242.10 L297.02,241.60 L296.72,241.10 L296.43,240.60 L296.15,240.10 L295.90,239.60 L295.66,239.10 L295.44,238.60 L295.23,238.10 L295.05,237.60 L294.88,237.10 L294.72,236.60 L294.58,236.10 L294.46,235.60 L294.36,235.10 L294.27,234.60 L294.20,234.10 L294.14,233.60 L294.09,233.10 L294.05,232.60 L294.02,232.10 L293.99,231.60 L293.96,231.10 L293.93,230.60 L293.90,230.10 L293.87,229.60 L293.83,229.10 L293.78,228.60 L293.72,228.10 L293.65,227.60 L293.56,227.10 L293.46,226.60 L293.34,226.10 L293.19,225.60 L293.02,225.10 L292.83,224.60 L292.61,224.10 L292.37,223.60 L292.11,223.10 L291.82,222.60 L291.52,222.10 L291.20,221.60 L290.86,221.10 L290.51,220.60 L290.14,220.10 L289.76,219.60 L289.37,219.10 L288.98,218.60 L288.57,218.10 L288.16,217.60 L287.74,217.10 L287.32,216.60 L286.90,216.10 L286.48,215.60 L286.05,215.10 L285.63,214.60 L285.22,214.10 L284.81,213.60 L284.40,213.10 L284.00,212.60 L283.62,212.10 L283.24,211.60 L282.88,211.10 L282.53,210.60 L282.19,210.10 L281.87,209.60 L281.57,209.10 L281.29,208.60 L281.02,208.10 L280.78,207.60 L280.56,207.10 L280.36,206.60 L280.18,206.10 L280.03,205.60 L279.91,205.10 L279.81,204.60 L279.74,204.10 L279.69,203.60 L279.68,203.10 L279.69,202.60 L279.74,202.10 L279.81,201.60 L279.93,201.10 L280.07,200.60 L280.25,200.10 L280.47,199.60 L280.71,199.10 L280.98,198.60 L281.28,198.10 L281.58,197.60 L281.90,197.10 L282.22,196.60 L282.53,196.10 L282.83,195.60 L283.13,195.10 L283.40,194.60 L283.65,194.10 L283.87,193.60 L284.08,193.10 L284.28,192.60 L284.45,192.10 L284.61,191.60 L284.75,191.10 L284.87,190.60 L284.98,190.10 L285.08,189.60 L285.16,189.10 L285.23,188.60 L285.29,188.10 L285.34,187.60 L285.38,187.10 L285.42,186.60 L285.44,186.10 L285.45,185.60 L285.46,185.10 L285.47,184.60 L285.46,184.10 L285.46,183.60 L285.45,183.10 L285.43,182.60 L285.42,182.10 L285.40,181.60 L285.38,181.10 L285.35,180.60 L285.33,180.10 L285.31,179.60 L285.29,179.10 L285.27,178.60 L285.25,178.10 L285.24,177.60 L285.22,177.10 L285.22,176.60 L285.21,176.10 L285.21,175.60 L285.22,175.10 L285.23,174.60 L285.25,174.10 L285.28,173.60 L285.31,173.10 L285.35,172.60 L285.41,172.10 L285.47,171.60 L285.54,171.10 L285.62,170.60 L285.71,170.10 L285.82,169.60 L285.94,169.10 L286.07,168.60 L286.21,168.10 L286.37,167.60 L286.55,167.10 L286.74,166.60 L286.94,166.10 L287.16,165.60 L287.40,165.10 L287.66,164.60 L287.94,164.10 L288.23,163.60 L288.54,163.10 L288.86,162.60 L289.20,162.10 L289.55,161.60 L289.92,161.10 L290.30,160.60 L290.70,160.10 L291.11,159.60 L291.53,159.10 L291.96,158.60 L292.41,158.10 L292.86,157.60 L293.32,157.10 L293.80,156.60 L294.28,156.10 L294.77,155.60 L295.27,155.10 L295.77,154.60 L296.28,154.10 L296.80,153.60 L297.30,153.10 L297.81,152.60 L298.30,152.10 L298.79,151.60 L299.26,151.10 L299.71,150.60 L300.13,150.10 L300.54,149.60 L300.92,149.10 L301.27,148.60 L301.60,148.10 L301.91,147.60 L302.20,147.10 L302.46,146.60 L302.71,146.10 L302.94,145.60 L303.15,145.10 L303.34,144.60 L303.52,144.10 L303.68,143.60 L303.83,143.10 L303.96,142.60 L304.08,142.10 L304.19,141.60 L304.29,141.10 L304.38,140.60 L304.46,140.10 L304.53,139.60 L304.60,139.10 L304.65,138.60 L304.71,138.10 L304.76,137.60 L304.80,137.10 L304.85,136.60 L304.89,136.10 L304.93,135.60 L304.98,135.10 L305.03,134.60 L305.08,134.10 L305.13,133.60 L305.19,133.10 L305.25,132.60 L305.32,132.10 L305.40,131.60 L305.49,131.10 L305.59,130.60 L305.70,130.10 L305.83,129.60 L305.96,129.10 L306.11,128.60 L306.27,128.10 L306.43,127.60 L306.61,127.10 L306.79,126.60 L306.98,126.10 L307.18,125.60 L307.38,125.10 L307.59,124.60 L307.81,124.10 L308.03,123.60 L308.25,123.10 L308.48,122.60 L308.70,122.10 L308.93,121.60 L309.16,121.10 L309.39,120.60 L309.61,120.10 L309.84,119.60 L310.06,119.10 L310.28,118.60 L310.50,118.10 L310.71,117.60 L310.92,117.10 L311.12,116.60 L311.32,116.10 L311.50,115.60 L311.68,115.10 L311.85,114.60 L312.01,114.10 L312.17,113.60 L312.31,113.10 L312.45,112.60 L312.58,112.10 L312.70,111.60 L312.82,111.10 L312.92,110.60 L313.03,110.10 L313.12,109.60 L313.21,109.10 L313.29,108.60 L313.36,108.10 L313.43,107.60 L313.50,107.10 L313.56,106.60 L313.61,106.10 L313.66,105.60 L313.71,105.10 L313.75,104.60 L313.78,104.10 L313.81,103.60 L313.84,103.10 L313.87,102.60 L313.89,102.10 L313.91,101.60 L313.92,101.10 L313.94,100.60 L313.95,100.10 L313.96,99.60 L313.96,99.10 L313.96,98.60 L313.96,98.10 L313.96,97.60 L313.96,97.10 L313.96,96.60 L313.96,96.10 L313.96,95.60 L313.96,95.10 L313.96,94.60 L313.96,94.10 L313.96,93.60 L313.96,93.10 L313.96,92.60 L313.96,92.10 L313.96,91.60 L313.96,91.10 Z" fill="#00CCFF" stroke="#000" stroke-width="1.25" stroke-linejoin="round"/>
<line x1="314.00" y1="130.30" x2="314.00" y2="248.60" stroke="#000" stroke-width="1.15"/>
<rect x="303.80" y="174.30" width="20.40" height="36.40" fill="#fff" stroke="#111" stroke-width="1.15"/>
<line x1="303.80" y1="200.30" x2="324.20" y2="200.30" stroke="#222" stroke-width="1.6"/>
<path d="M417.04,97.40 L417.04,97.90 L417.04,98.40 L417.05,98.90 L417.06,99.40 L417.07,99.90 L417.08,100.40 L417.08,100.90 L417.09,101.40 L417.09,101.90 L417.09,102.40 L417.09,102.90 L417.09,103.40 L417.09,103.90 L417.09,104.40 L417.09,104.90 L417.10,105.40 L417.10,105.90 L417.12,106.40 L417.13,106.90 L417.16,107.40 L417.18,107.90 L417.22,108.40 L417.26,108.90 L417.30,109.40 L417.36,109.90 L417.42,110.40 L417.49,110.90 L417.58,111.40 L417.67,111.90 L417.77,112.40 L417.89,112.90 L418.01,113.40 L418.15,113.90 L418.30,114.40 L418.47,114.90 L418.65,115.40 L418.85,115.90 L419.06,116.40 L419.29,116.90 L419.53,117.40 L419.79,117.90 L420.07,118.40 L420.36,118.90 L420.67,119.40 L420.99,119.90 L421.31,120.40 L421.65,120.90 L421.99,121.40 L422.34,121.90 L422.70,122.40 L423.05,122.90 L423.41,123.40 L423.76,123.90 L424.11,124.40 L424.46,124.90 L424.81,125.40 L425.14,125.90 L425.47,126.40 L425.79,126.90 L426.09,127.40 L426.39,127.90 L426.66,128.40 L426.93,128.90 L427.17,129.40 L427.40,129.90 L427.60,130.40 L427.78,130.90 L427.95,131.40 L428.10,131.90 L428.23,132.40 L428.34,132.90 L428.44,133.40 L428.53,133.90 L428.60,134.40 L428.67,134.90 L428.72,135.40 L428.77,135.90 L428.80,136.40 L428.84,136.90 L428.86,137.40 L428.89,137.90 L428.91,138.40 L428.93,138.90 L428.95,139.40 L428.97,139.90 L428.99,140.40 L429.01,140.90 L429.04,141.40 L429.08,141.90 L429.12,142.40 L429.17,142.90 L429.22,143.40 L429.29,143.90 L429.37,144.40 L429.46,144.90 L429.56,145.40 L429.67,145.90 L429.80,146.40 L429.95,146.90 L430.11,147.40 L430.29,147.90 L430.49,148.40 L430.71,148.90 L430.95,149.40 L431.21,149.90 L431.49,150.40 L431.80,150.90 L432.14,151.40 L432.50,151.90 L432.89,152.40 L433.31,152.90 L433.75,153.40 L434.23,153.90 L434.74,154.40 L435.28,154.90 L435.86,155.40 L436.46,155.90 L437.10,156.40 L437.76,156.90 L438.44,157.40 L439.14,157.90 L439.85,158.40 L440.58,158.90 L441.31,159.40 L442.06,159.90 L442.80,160.40 L443.54,160.90 L444.28,161.40 L445.01,161.90 L445.73,162.40 L446.43,162.90 L447.12,163.40 L447.79,163.90 L448.44,164.40 L449.05,164.90 L449.64,165.40 L450.20,165.90 L450.73,166.40 L451.23,166.90 L451.70,167.40 L452.14,167.90 L452.56,168.40 L452.96,168.90 L453.33,169.40 L453.67,169.90 L454.00,170.40 L454.30,170.90 L454.58,171.40 L454.84,171.90 L455.08,172.40 L455.30,172.90 L455.50,173.40 L455.69,173.90 L455.86,174.40 L456.01,174.90 L456.15,175.40 L456.28,175.90 L456.39,176.40 L456.49,176.90 L456.58,177.40 L456.66,177.90 L456.73,178.40 L456.79,178.90 L456.84,179.40 L456.89,179.90 L456.93,180.40 L456.96,180.90 L456.99,181.40 L457.01,181.90 L457.03,182.40 L457.05,182.90 L457.06,183.40 L457.08,183.90 L457.09,184.40 L457.11,184.90 L457.13,185.40 L457.15,185.90 L457.16,186.40 L457.18,186.90 L457.20,187.40 L457.21,187.90 L457.22,188.40 L457.22,188.90 L457.22,189.40 L457.21,189.90 L457.19,190.40 L457.16,190.90 L457.12,191.40 L457.07,191.90 L457.01,192.40 L456.94,192.90 L456.85,193.40 L456.74,193.90 L456.62,194.40 L456.49,194.90 L456.33,195.40 L456.16,195.90 L455.96,196.40 L455.74,196.90 L455.49,197.40 L455.21,197.90 L454.91,198.40 L454.57,198.90 L454.20,199.40 L453.79,199.90 L453.34,200.40 L452.86,200.90 L452.35,201.40 L451.80,201.90 L451.23,202.40 L450.63,202.90 L450.01,203.40 L449.38,203.90 L448.72,204.40 L448.06,204.90 L447.38,205.40 L446.70,205.90 L446.02,206.40 L445.33,206.90 L444.64,207.40 L443.96,207.90 L443.29,208.40 L442.63,208.90 L441.98,209.40 L441.35,209.90 L440.73,210.40 L440.14,210.90 L439.57,211.40 L439.01,211.90 L438.48,212.40 L437.96,212.90 L437.45,213.40 L436.97,213.90 L436.50,214.40 L436.05,214.90 L435.61,215.40 L435.19,215.90 L434.79,216.40 L434.39,216.90 L434.01,217.40 L433.65,217.90 L433.30,218.40 L432.96,218.90 L432.63,219.40 L432.31,219.90 L432.01,220.40 L431.71,220.90 L431.43,221.40 L431.16,221.90 L430.89,222.40 L430.64,222.90 L430.39,223.40 L430.15,223.90 L429.92,224.40 L429.69,224.90 L429.47,225.40 L429.26,225.90 L429.05,226.40 L428.85,226.90 L428.66,227.40 L428.46,227.90 L428.28,228.40 L428.09,228.90 L427.91,229.40 L427.73,229.90 L427.56,230.40 L427.38,230.90 L427.21,231.40 L427.04,231.90 L426.87,232.40 L426.70,232.90 L426.54,233.40 L426.37,233.90 L426.21,234.40 L426.05,234.90 L425.89,235.40 L425.73,235.90 L425.58,236.40 L425.42,236.90 L425.27,237.40 L425.12,237.90 L424.97,238.40 L424.82,238.90 L424.67,239.40 L424.52,239.90 L424.37,240.40 L424.22,240.90 L424.08,241.40 L423.93,241.90 L423.79,242.40 L423.65,242.90 L423.50,243.40 L423.36,243.90 L423.22,244.40 L423.08,244.90 L422.93,245.40 L422.79,245.90 L422.65,246.40 L422.51,246.90 L422.37,247.40 L422.23,247.90 L422.09,248.40 L421.95,248.90 L421.81,249.40 L421.67,249.90 L421.53,250.40 L421.38,250.90 L421.24,251.40 L421.10,251.90 L420.96,252.40 L420.81,252.90 L420.67,253.40 L420.52,253.90 L420.38,254.40 L420.23,254.90 L420.09,255.40 L419.94,255.90 L419.79,256.40 L419.64,256.90 L419.50,257.40 L419.35,257.90 L419.21,258.40 L419.07,258.90 L418.93,259.40 L418.79,259.90 L418.66,260.40 L418.53,260.90 L418.40,261.40 L418.28,261.90 L418.17,262.40 L418.06,262.90 L417.96,263.40 L417.86,263.90 L417.77,264.40 L417.69,264.90 L417.61,265.40 L417.54,265.90 L417.48,266.40 L417.43,266.90 L417.38,267.40 L417.34,267.90 L417.30,268.40 L417.27,268.90 L417.24,269.40 L417.22,269.90 L417.21,270.40 L417.19,270.90 L417.18,271.40 L417.18,271.90 L417.17,272.40 L417.17,272.90 L417.17,273.40 L417.17,273.90 L417.18,274.40 L417.18,274.90 L417.19,275.40 L417.19,275.90 L417.20,276.40 L417.21,276.90 L417.21,277.40 L417.21,277.90 L417.22,278.40 L417.21,278.90 L417.21,279.40 L417.21,279.90 L417.20,280.40 L417.19,280.90 L417.17,281.40 L417.15,281.90 L417.13,282.40 L417.10,282.90 L417.07,283.40 L417.04,283.90 L417.04,284.40 L417.04,284.50 L416.96,284.50 L416.96,284.40 L416.96,283.90 L416.93,283.40 L416.90,282.90 L416.87,282.40 L416.85,281.90 L416.83,281.40 L416.81,280.90 L416.80,280.40 L416.79,279.90 L416.79,279.40 L416.79,278.90 L416.78,278.40 L416.79,277.90 L416.79,277.40 L416.79,276.90 L416.80,276.40 L416.81,275.90 L416.81,275.40 L416.82,274.90 L416.82,274.40 L416.83,273.90 L416.83,273.40 L416.83,272.90 L416.83,272.40 L416.82,271.90 L416.82,271.40 L416.81,270.90 L416.79,270.40 L416.78,269.90 L416.76,269.40 L416.73,268.90 L416.70,268.40 L416.66,267.90 L416.62,267.40 L416.57,266.90 L416.52,266.40 L416.46,265.90 L416.39,265.40 L416.31,264.90 L416.23,264.40 L416.14,263.90 L416.04,263.40 L415.94,262.90 L415.83,262.40 L415.72,261.90 L415.60,261.40 L415.47,260.90 L415.34,260.40 L415.21,259.90 L415.07,259.40 L414.93,258.90 L414.79,258.40 L414.65,257.90 L414.50,257.40 L414.36,256.90 L414.21,256.40 L414.06,255.90 L413.91,255.40 L413.77,254.90 L413.62,254.40 L413.48,253.90 L413.33,253.40 L413.19,252.90 L413.04,252.40 L412.90,251.90 L412.76,251.40 L412.62,250.90 L412.47,250.40 L412.33,249.90 L412.19,249.40 L412.05,248.90 L411.91,248.40 L411.77,247.90 L411.63,247.40 L411.49,246.90 L411.35,246.40 L411.21,245.90 L411.07,245.40 L410.92,244.90 L410.78,244.40 L410.64,243.90 L410.50,243.40 L410.35,242.90 L410.21,242.40 L410.07,241.90 L409.92,241.40 L409.78,240.90 L409.63,240.40 L409.48,239.90 L409.33,239.40 L409.18,238.90 L409.03,238.40 L408.88,237.90 L408.73,237.40 L408.58,236.90 L408.42,236.40 L408.27,235.90 L408.11,235.40 L407.95,234.90 L407.79,234.40 L407.63,233.90 L407.46,233.40 L407.30,232.90 L407.13,232.40 L406.96,231.90 L406.79,231.40 L406.62,230.90 L406.44,230.40 L406.27,229.90 L406.09,229.40 L405.91,228.90 L405.72,228.40 L405.54,227.90 L405.34,227.40 L405.15,226.90 L404.95,226.40 L404.74,225.90 L404.53,225.40 L404.31,224.90 L404.08,224.40 L403.85,223.90 L403.61,223.40 L403.36,222.90 L403.11,222.40 L402.84,221.90 L402.57,221.40 L402.29,220.90 L401.99,220.40 L401.69,219.90 L401.37,219.40 L401.04,218.90 L400.70,218.40 L400.35,217.90 L399.99,217.40 L399.61,216.90 L399.21,216.40 L398.81,215.90 L398.39,215.40 L397.95,214.90 L397.50,214.40 L397.03,213.90 L396.55,213.40 L396.04,212.90 L395.52,212.40 L394.99,211.90 L394.43,211.40 L393.86,210.90 L393.27,210.40 L392.65,209.90 L392.02,209.40 L391.37,208.90 L390.71,208.40 L390.04,207.90 L389.36,207.40 L388.67,206.90 L387.98,206.40 L387.30,205.90 L386.62,205.40 L385.94,204.90 L385.28,204.40 L384.62,203.90 L383.99,203.40 L383.37,202.90 L382.77,202.40 L382.20,201.90 L381.65,201.40 L381.14,200.90 L380.66,200.40 L380.21,199.90 L379.80,199.40 L379.43,198.90 L379.09,198.40 L378.79,197.90 L378.51,197.40 L378.26,196.90 L378.04,196.40 L377.84,195.90 L377.67,195.40 L377.51,194.90 L377.38,194.40 L377.26,193.90 L377.15,193.40 L377.06,192.90 L376.99,192.40 L376.93,191.90 L376.88,191.40 L376.84,190.90 L376.81,190.40 L376.79,189.90 L376.78,189.40 L376.78,188.90 L376.78,188.40 L376.79,187.90 L376.80,187.40 L376.82,186.90 L376.84,186.40 L376.85,185.90 L376.87,185.40 L376.89,184.90 L376.91,184.40 L376.92,183.90 L376.94,183.40 L376.95,182.90 L376.97,182.40 L376.99,181.90 L377.01,181.40 L377.04,180.90 L377.07,180.40 L377.11,179.90 L377.16,179.40 L377.21,178.90 L377.27,178.40 L377.34,177.90 L377.42,177.40 L377.51,176.90 L377.61,176.40 L377.72,175.90 L377.85,175.40 L377.99,174.90 L378.14,174.40 L378.31,173.90 L378.50,173.40 L378.70,172.90 L378.92,172.40 L379.16,171.90 L379.42,171.40 L379.70,170.90 L380.00,170.40 L380.33,169.90 L380.67,169.40 L381.04,168.90 L381.44,168.40 L381.86,167.90 L382.30,167.40 L382.77,166.90 L383.27,166.40 L383.80,165.90 L384.36,165.40 L384.95,164.90 L385.56,164.40 L386.21,163.90 L386.88,163.40 L387.57,162.90 L388.27,162.40 L388.99,161.90 L389.72,161.40 L390.46,160.90 L391.20,160.40 L391.94,159.90 L392.69,159.40 L393.42,158.90 L394.15,158.40 L394.86,157.90 L395.56,157.40 L396.24,156.90 L396.90,156.40 L397.54,155.90 L398.14,155.40 L398.72,154.90 L399.26,154.40 L399.77,153.90 L400.25,153.40 L400.69,152.90 L401.11,152.40 L401.50,151.90 L401.86,151.40 L402.20,150.90 L402.51,150.40 L402.79,149.90 L403.05,149.40 L403.29,148.90 L403.51,148.40 L403.71,147.90 L403.89,147.40 L404.05,146.90 L404.20,146.40 L404.33,145.90 L404.44,145.40 L404.54,144.90 L404.63,144.40 L404.71,143.90 L404.78,143.40 L404.83,142.90 L404.88,142.40 L404.92,141.90 L404.96,141.40 L404.99,140.90 L405.01,140.40 L405.03,139.90 L405.05,139.40 L405.07,138.90 L405.09,138.40 L405.11,137.90 L405.14,137.40 L405.16,136.90 L405.20,136.40 L405.23,135.90 L405.28,135.40 L405.33,134.90 L405.40,134.40 L405.47,133.90 L405.56,133.40 L405.66,132.90 L405.77,132.40 L405.90,131.90 L406.05,131.40 L406.22,130.90 L406.40,130.40 L406.60,129.90 L406.83,129.40 L407.07,128.90 L407.34,128.40 L407.61,127.90 L407.91,127.40 L408.21,126.90 L408.53,126.40 L408.86,125.90 L409.19,125.40 L409.54,124.90 L409.89,124.40 L410.24,123.90 L410.59,123.40 L410.95,122.90 L411.30,122.40 L411.66,121.90 L412.01,121.40 L412.35,120.90 L412.69,120.40 L413.01,119.90 L413.33,119.40 L413.64,118.90 L413.93,118.40 L414.21,117.90 L414.47,117.40 L414.71,116.90 L414.94,116.40 L415.15,115.90 L415.35,115.40 L415.53,114.90 L415.70,114.40 L415.85,113.90 L415.99,113.40 L416.11,112.90 L416.23,112.40 L416.33,111.90 L416.42,111.40 L416.51,110.90 L416.58,110.40 L416.64,109.90 L416.70,109.40 L416.74,108.90 L416.78,108.40 L416.82,107.90 L416.84,107.40 L416.87,106.90 L416.88,106.40 L416.90,105.90 L416.90,105.40 L416.91,104.90 L416.91,104.40 L416.91,103.90 L416.91,103.40 L416.91,102.90 L416.91,102.40 L416.91,101.90 L416.91,101.40 L416.92,100.90 L416.92,100.40 L416.93,99.90 L416.94,99.40 L416.95,98.90 L416.96,98.40 L416.96,97.90 L416.96,97.40 Z" fill="#F9BF00" stroke="#000" stroke-width="1.25" stroke-linejoin="round"/>
<line x1="417.00" y1="131.10" x2="417.00" y2="251.50" stroke="#000" stroke-width="1.15"/>
<rect x="406.80" y="169.40" width="20.40" height="32.40" fill="#fff" stroke="#111" stroke-width="1.15"/>
<line x1="406.80" y1="186.10" x2="427.20" y2="186.10" stroke="#222" stroke-width="1.6"/>
<path d="M520.04,124.80 L520.04,125.30 L520.04,125.80 L520.05,126.30 L520.07,126.80 L520.08,127.30 L520.09,127.80 L520.09,128.30 L520.10,128.80 L520.10,129.30 L520.09,129.80 L520.09,130.30 L520.09,130.80 L520.08,131.30 L520.08,131.80 L520.07,132.30 L520.07,132.80 L520.07,133.30 L520.07,133.80 L520.07,134.30 L520.07,134.80 L520.08,135.30 L520.09,135.80 L520.11,136.30 L520.13,136.80 L520.15,137.30 L520.18,137.80 L520.22,138.30 L520.26,138.80 L520.31,139.30 L520.36,139.80 L520.42,140.30 L520.49,140.80 L520.57,141.30 L520.65,141.80 L520.74,142.30 L520.84,142.80 L520.94,143.30 L521.05,143.80 L521.16,144.30 L521.27,144.80 L521.39,145.30 L521.51,145.80 L521.63,146.30 L521.76,146.80 L521.89,147.30 L522.02,147.80 L522.15,148.30 L522.29,148.80 L522.42,149.30 L522.55,149.80 L522.69,150.30 L522.82,150.80 L522.96,151.30 L523.09,151.80 L523.22,152.30 L523.35,152.80 L523.48,153.30 L523.60,153.80 L523.72,154.30 L523.84,154.80 L523.95,155.30 L524.06,155.80 L524.17,156.30 L524.28,156.80 L524.38,157.30 L524.48,157.80 L524.58,158.30 L524.68,158.80 L524.78,159.30 L524.88,159.80 L524.98,160.30 L525.08,160.80 L525.18,161.30 L525.29,161.80 L525.39,162.30 L525.50,162.80 L525.62,163.30 L525.74,163.80 L525.86,164.30 L525.99,164.80 L526.12,165.30 L526.26,165.80 L526.41,166.30 L526.56,166.80 L526.72,167.30 L526.89,167.80 L527.07,168.30 L527.26,168.80 L527.46,169.30 L527.66,169.80 L527.88,170.30 L528.11,170.80 L528.36,171.30 L528.62,171.80 L528.89,172.30 L529.17,172.80 L529.47,173.30 L529.78,173.80 L530.11,174.30 L530.46,174.80 L530.82,175.30 L531.20,175.80 L531.60,176.30 L532.02,176.80 L532.45,177.30 L532.91,177.80 L533.39,178.30 L533.88,178.80 L534.40,179.30 L534.94,179.80 L535.51,180.30 L536.09,180.80 L536.70,181.30 L537.32,181.80 L537.95,182.30 L538.60,182.80 L539.25,183.30 L539.92,183.80 L540.59,184.30 L541.26,184.80 L541.93,185.30 L542.60,185.80 L543.26,186.30 L543.92,186.80 L544.57,187.30 L545.21,187.80 L545.83,188.30 L546.44,188.80 L547.03,189.30 L547.59,189.80 L548.14,190.30 L548.66,190.80 L549.15,191.30 L549.62,191.80 L550.07,192.30 L550.49,192.80 L550.89,193.30 L551.26,193.80 L551.61,194.30 L551.94,194.80 L552.24,195.30 L552.51,195.80 L552.76,196.30 L552.99,196.80 L553.19,197.30 L553.37,197.80 L553.52,198.30 L553.64,198.80 L553.75,199.30 L553.83,199.80 L553.88,200.30 L553.91,200.80 L553.92,201.30 L553.91,201.80 L553.89,202.30 L553.85,202.80 L553.80,203.30 L553.75,203.80 L553.68,204.30 L553.62,204.80 L553.55,205.30 L553.49,205.80 L553.43,206.30 L553.38,206.80 L553.33,207.30 L553.30,207.80 L553.28,208.30 L553.28,208.80 L553.30,209.30 L553.34,209.80 L553.41,210.30 L553.50,210.80 L553.61,211.30 L553.75,211.80 L553.90,212.30 L554.07,212.80 L554.26,213.30 L554.46,213.80 L554.68,214.30 L554.91,214.80 L555.14,215.30 L555.39,215.80 L555.64,216.30 L555.90,216.80 L556.16,217.30 L556.43,217.80 L556.69,218.30 L556.95,218.80 L557.22,219.30 L557.47,219.80 L557.72,220.30 L557.97,220.80 L558.20,221.30 L558.42,221.80 L558.63,222.30 L558.83,222.80 L559.01,223.30 L559.18,223.80 L559.32,224.30 L559.45,224.80 L559.55,225.30 L559.63,225.80 L559.69,226.30 L559.73,226.80 L559.74,227.30 L559.72,227.80 L559.68,228.30 L559.62,228.80 L559.53,229.30 L559.41,229.80 L559.27,230.30 L559.10,230.80 L558.90,231.30 L558.68,231.80 L558.43,232.30 L558.14,232.80 L557.83,233.30 L557.49,233.80 L557.12,234.30 L556.72,234.80 L556.29,235.30 L555.82,235.80 L555.33,236.30 L554.82,236.80 L554.28,237.30 L553.73,237.80 L553.15,238.30 L552.56,238.80 L551.95,239.30 L551.34,239.80 L550.71,240.30 L550.08,240.80 L549.44,241.30 L548.80,241.80 L548.16,242.30 L547.53,242.80 L546.90,243.30 L546.27,243.80 L545.66,244.30 L545.05,244.80 L544.46,245.30 L543.89,245.80 L543.33,246.30 L542.78,246.80 L542.25,247.30 L541.74,247.80 L541.24,248.30 L540.76,248.80 L540.30,249.30 L539.85,249.80 L539.43,250.30 L539.01,250.80 L538.62,251.30 L538.24,251.80 L537.89,252.30 L537.55,252.80 L537.23,253.30 L536.93,253.80 L536.64,254.30 L536.38,254.80 L536.14,255.30 L535.92,255.80 L535.71,256.30 L535.52,256.80 L535.35,257.30 L535.18,257.80 L535.04,258.30 L534.90,258.80 L534.77,259.30 L534.65,259.80 L534.53,260.30 L534.42,260.80 L534.31,261.30 L534.21,261.80 L534.10,262.30 L534.00,262.80 L533.89,263.30 L533.78,263.80 L533.67,264.30 L533.55,264.80 L533.42,265.30 L533.28,265.80 L533.13,266.30 L532.97,266.80 L532.80,267.30 L532.61,267.80 L532.41,268.30 L532.19,268.80 L531.95,269.30 L531.68,269.80 L531.40,270.30 L531.10,270.80 L530.78,271.30 L530.44,271.80 L530.08,272.30 L529.71,272.80 L529.33,273.30 L528.94,273.80 L528.55,274.30 L528.15,274.80 L527.75,275.30 L527.34,275.80 L526.94,276.30 L526.54,276.80 L526.14,277.30 L525.75,277.80 L525.37,278.30 L525.00,278.80 L524.64,279.30 L524.30,279.80 L523.98,280.30 L523.67,280.80 L523.38,281.30 L523.10,281.80 L522.84,282.30 L522.60,282.80 L522.37,283.30 L522.16,283.80 L521.96,284.30 L521.77,284.80 L521.60,285.30 L521.44,285.80 L521.29,286.30 L521.16,286.80 L521.03,287.30 L520.92,287.80 L520.81,288.30 L520.72,288.80 L520.64,289.30 L520.56,289.80 L520.50,290.30 L520.44,290.80 L520.39,291.30 L520.34,291.80 L520.30,292.30 L520.27,292.80 L520.25,293.30 L520.23,293.80 L520.21,294.30 L520.20,294.80 L520.19,295.30 L520.19,295.80 L520.19,296.30 L520.19,296.80 L520.19,297.30 L520.19,297.80 L520.20,298.30 L520.21,298.80 L520.21,299.30 L520.22,299.80 L520.22,300.30 L520.23,300.80 L520.23,301.30 L520.23,301.80 L520.22,302.30 L520.22,302.80 L520.21,303.30 L520.19,303.80 L520.18,304.30 L520.15,304.80 L520.12,305.30 L520.09,305.80 L520.04,306.30 L520.04,306.80 L520.04,307.00 L519.96,307.00 L519.96,306.80 L519.96,306.30 L519.91,305.80 L519.88,305.30 L519.85,304.80 L519.82,304.30 L519.81,303.80 L519.79,303.30 L519.78,302.80 L519.78,302.30 L519.77,301.80 L519.77,301.30 L519.77,300.80 L519.78,300.30 L519.78,299.80 L519.79,299.30 L519.79,298.80 L519.80,298.30 L519.81,297.80 L519.81,297.30 L519.81,296.80 L519.81,296.30 L519.81,295.80 L519.81,295.30 L519.80,294.80 L519.79,294.30 L519.77,293.80 L519.75,293.30 L519.73,292.80 L519.70,292.30 L519.66,291.80 L519.61,291.30 L519.56,290.80 L519.50,290.30 L519.44,289.80 L519.36,289.30 L519.28,288.80 L519.19,288.30 L519.08,287.80 L518.97,287.30 L518.84,286.80 L518.71,286.30 L518.56,285.80 L518.40,285.30 L518.23,284.80 L518.04,284.30 L517.84,283.80 L517.63,283.30 L517.40,282.80 L517.16,282.30 L516.90,281.80 L516.62,281.30 L516.33,280.80 L516.02,280.30 L515.70,279.80 L515.36,279.30 L515.00,278.80 L514.63,278.30 L514.25,277.80 L513.86,277.30 L513.46,276.80 L513.06,276.30 L512.66,275.80 L512.25,275.30 L511.85,274.80 L511.45,274.30 L511.06,273.80 L510.67,273.30 L510.29,272.80 L509.92,272.30 L509.56,271.80 L509.22,271.30 L508.90,270.80 L508.60,270.30 L508.32,269.80 L508.05,269.30 L507.81,268.80 L507.59,268.30 L507.39,267.80 L507.20,267.30 L507.03,266.80 L506.87,266.30 L506.72,265.80 L506.58,265.30 L506.45,264.80 L506.33,264.30 L506.22,263.80 L506.11,263.30 L506.00,262.80 L505.90,262.30 L505.79,261.80 L505.69,261.30 L505.58,260.80 L505.47,260.30 L505.35,259.80 L505.23,259.30 L505.10,258.80 L504.96,258.30 L504.82,257.80 L504.65,257.30 L504.48,256.80 L504.29,256.30 L504.08,255.80 L503.86,255.30 L503.62,254.80 L503.36,254.30 L503.07,253.80 L502.77,253.30 L502.45,252.80 L502.11,252.30 L501.76,251.80 L501.38,251.30 L500.99,250.80 L500.57,250.30 L500.15,249.80 L499.70,249.30 L499.24,248.80 L498.76,248.30 L498.26,247.80 L497.75,247.30 L497.22,246.80 L496.67,246.30 L496.11,245.80 L495.54,245.30 L494.95,244.80 L494.34,244.30 L493.73,243.80 L493.10,243.30 L492.47,242.80 L491.84,242.30 L491.20,241.80 L490.56,241.30 L489.92,240.80 L489.29,240.30 L488.66,239.80 L488.05,239.30 L487.44,238.80 L486.85,238.30 L486.27,237.80 L485.72,237.30 L485.18,236.80 L484.67,236.30 L484.18,235.80 L483.71,235.30 L483.28,234.80 L482.88,234.30 L482.51,233.80 L482.17,233.30 L481.86,232.80 L481.57,232.30 L481.32,231.80 L481.10,231.30 L480.90,230.80 L480.73,230.30 L480.59,229.80 L480.47,229.30 L480.38,228.80 L480.32,228.30 L480.28,227.80 L480.26,227.30 L480.27,226.80 L480.31,226.30 L480.37,225.80 L480.45,225.30 L480.55,224.80 L480.68,224.30 L480.82,223.80 L480.99,223.30 L481.17,222.80 L481.37,222.30 L481.58,221.80 L481.80,221.30 L482.03,220.80 L482.28,220.30 L482.53,219.80 L482.78,219.30 L483.05,218.80 L483.31,218.30 L483.57,217.80 L483.84,217.30 L484.10,216.80 L484.36,216.30 L484.61,215.80 L484.86,215.30 L485.09,214.80 L485.32,214.30 L485.54,213.80 L485.74,213.30 L485.93,212.80 L486.10,212.30 L486.25,211.80 L486.39,211.30 L486.50,210.80 L486.59,210.30 L486.66,209.80 L486.70,209.30 L486.72,208.80 L486.72,208.30 L486.70,207.80 L486.67,207.30 L486.62,206.80 L486.57,206.30 L486.51,205.80 L486.45,205.30 L486.38,204.80 L486.32,204.30 L486.25,203.80 L486.20,203.30 L486.15,202.80 L486.11,202.30 L486.09,201.80 L486.08,201.30 L486.09,200.80 L486.12,200.30 L486.17,199.80 L486.25,199.30 L486.36,198.80 L486.48,198.30 L486.63,197.80 L486.81,197.30 L487.01,196.80 L487.24,196.30 L487.49,195.80 L487.76,195.30 L488.06,194.80 L488.39,194.30 L488.74,193.80 L489.11,193.30 L489.51,192.80 L489.93,192.30 L490.38,191.80 L490.85,191.30 L491.34,190.80 L491.86,190.30 L492.41,189.80 L492.97,189.30 L493.56,188.80 L494.17,188.30 L494.79,187.80 L495.43,187.30 L496.08,186.80 L496.74,186.30 L497.40,185.80 L498.07,185.30 L498.74,184.80 L499.41,184.30 L500.08,183.80 L500.75,183.30 L501.40,182.80 L502.05,182.30 L502.68,181.80 L503.30,181.30 L503.91,180.80 L504.49,180.30 L505.06,179.80 L505.60,179.30 L506.12,178.80 L506.61,178.30 L507.09,177.80 L507.55,177.30 L507.98,176.80 L508.40,176.30 L508.80,175.80 L509.18,175.30 L509.54,174.80 L509.89,174.30 L510.22,173.80 L510.53,173.30 L510.83,172.80 L511.11,172.30 L511.38,171.80 L511.64,171.30 L511.89,170.80 L512.12,170.30 L512.34,169.80 L512.54,169.30 L512.74,168.80 L512.93,168.30 L513.11,167.80 L513.28,167.30 L513.44,166.80 L513.59,166.30 L513.74,165.80 L513.88,165.30 L514.01,164.80 L514.14,164.30 L514.26,163.80 L514.38,163.30 L514.50,162.80 L514.61,162.30 L514.71,161.80 L514.82,161.30 L514.92,160.80 L515.02,160.30 L515.12,159.80 L515.22,159.30 L515.32,158.80 L515.42,158.30 L515.52,157.80 L515.62,157.30 L515.72,156.80 L515.83,156.30 L515.94,155.80 L516.05,155.30 L516.16,154.80 L516.28,154.30 L516.40,153.80 L516.52,153.30 L516.65,152.80 L516.78,152.30 L516.91,151.80 L517.04,151.30 L517.18,150.80 L517.31,150.30 L517.45,149.80 L517.58,149.30 L517.71,148.80 L517.85,148.30 L517.98,147.80 L518.11,147.30 L518.24,146.80 L518.37,146.30 L518.49,145.80 L518.61,145.30 L518.73,144.80 L518.84,144.30 L518.95,143.80 L519.06,143.30 L519.16,142.80 L519.26,142.30 L519.35,141.80 L519.43,141.30 L519.51,140.80 L519.58,140.30 L519.64,139.80 L519.69,139.30 L519.74,138.80 L519.78,138.30 L519.82,137.80 L519.85,137.30 L519.87,136.80 L519.89,136.30 L519.91,135.80 L519.92,135.30 L519.93,134.80 L519.93,134.30 L519.93,133.80 L519.93,133.30 L519.93,132.80 L519.93,132.30 L519.92,131.80 L519.92,131.30 L519.91,130.80 L519.91,130.30 L519.91,129.80 L519.90,129.30 L519.90,128.80 L519.91,128.30 L519.91,127.80 L519.92,127.30 L519.93,126.80 L519.95,126.30 L519.96,125.80 L519.96,125.30 L519.96,124.80 Z" fill="#F9BF00" stroke="#000" stroke-width="1.25" stroke-linejoin="round"/>
<line x1="520.00" y1="156.60" x2="520.00" y2="275.50" stroke="#000" stroke-width="1.15"/>
<rect x="509.80" y="200.50" width="20.40" height="37.70" fill="#fff" stroke="#111" stroke-width="1.15"/>
<line x1="509.80" y1="222.50" x2="530.20" y2="222.50" stroke="#222" stroke-width="1.6"/>
<path d="M623.04,115.40 L623.04,115.90 L623.04,116.40 L623.07,116.90 L623.10,117.40 L623.12,117.90 L623.14,118.40 L623.15,118.90 L623.16,119.40 L623.17,119.90 L623.17,120.40 L623.17,120.90 L623.17,121.40 L623.17,121.90 L623.16,122.40 L623.16,122.90 L623.15,123.40 L623.15,123.90 L623.14,124.40 L623.13,124.90 L623.12,125.40 L623.12,125.90 L623.11,126.40 L623.10,126.90 L623.10,127.40 L623.10,127.90 L623.10,128.40 L623.10,128.90 L623.10,129.40 L623.11,129.90 L623.12,130.40 L623.13,130.90 L623.15,131.40 L623.17,131.90 L623.19,132.40 L623.22,132.90 L623.26,133.40 L623.30,133.90 L623.34,134.40 L623.39,134.90 L623.45,135.40 L623.51,135.90 L623.58,136.40 L623.65,136.90 L623.72,137.40 L623.81,137.90 L623.89,138.40 L623.98,138.90 L624.07,139.40 L624.17,139.90 L624.27,140.40 L624.37,140.90 L624.47,141.40 L624.57,141.90 L624.68,142.40 L624.79,142.90 L624.89,143.40 L625.00,143.90 L625.11,144.40 L625.22,144.90 L625.32,145.40 L625.43,145.90 L625.54,146.40 L625.64,146.90 L625.74,147.40 L625.84,147.90 L625.94,148.40 L626.04,148.90 L626.14,149.40 L626.23,149.90 L626.32,150.40 L626.41,150.90 L626.50,151.40 L626.58,151.90 L626.66,152.40 L626.74,152.90 L626.81,153.40 L626.88,153.90 L626.95,154.40 L627.01,154.90 L627.07,155.40 L627.12,155.90 L627.17,156.40 L627.22,156.90 L627.26,157.40 L627.29,157.90 L627.32,158.40 L627.35,158.90 L627.36,159.40 L627.38,159.90 L627.38,160.40 L627.39,160.90 L627.38,161.40 L627.37,161.90 L627.36,162.40 L627.35,162.90 L627.33,163.40 L627.31,163.90 L627.28,164.40 L627.26,164.90 L627.23,165.40 L627.20,165.90 L627.18,166.40 L627.15,166.90 L627.13,167.40 L627.10,167.90 L627.08,168.40 L627.06,168.90 L627.04,169.40 L627.03,169.90 L627.02,170.40 L627.01,170.90 L627.01,171.40 L627.01,171.90 L627.01,172.40 L627.02,172.90 L627.04,173.40 L627.06,173.90 L627.08,174.40 L627.11,174.90 L627.14,175.40 L627.18,175.90 L627.23,176.40 L627.28,176.90 L627.33,177.40 L627.39,177.90 L627.45,178.40 L627.52,178.90 L627.60,179.40 L627.68,179.90 L627.77,180.40 L627.86,180.90 L627.96,181.40 L628.07,181.90 L628.18,182.40 L628.30,182.90 L628.42,183.40 L628.56,183.90 L628.69,184.40 L628.84,184.90 L628.99,185.40 L629.15,185.90 L629.32,186.40 L629.49,186.90 L629.67,187.40 L629.86,187.90 L630.05,188.40 L630.25,188.90 L630.46,189.40 L630.68,189.90 L630.91,190.40 L631.14,190.90 L631.38,191.40 L631.63,191.90 L631.89,192.40 L632.16,192.90 L632.43,193.40 L632.72,193.90 L633.01,194.40 L633.31,194.90 L633.62,195.40 L633.94,195.90 L634.26,196.40 L634.60,196.90 L634.93,197.40 L635.28,197.90 L635.63,198.40 L635.99,198.90 L636.35,199.40 L636.71,199.90 L637.08,200.40 L637.45,200.90 L637.82,201.40 L638.19,201.90 L638.56,202.40 L638.93,202.90 L639.30,203.40 L639.67,203.90 L640.04,204.40 L640.41,204.90 L640.77,205.40 L641.13,205.90 L641.49,206.40 L641.84,206.90 L642.18,207.40 L642.52,207.90 L642.85,208.40 L643.18,208.90 L643.49,209.40 L643.80,209.90 L644.10,210.40 L644.39,210.90 L644.67,211.40 L644.95,211.90 L645.21,212.40 L645.46,212.90 L645.71,213.40 L645.95,213.90 L646.18,214.40 L646.41,214.90 L646.62,215.40 L646.83,215.90 L647.03,216.40 L647.23,216.90 L647.41,217.40 L647.59,217.90 L647.77,218.40 L647.93,218.90 L648.09,219.40 L648.25,219.90 L648.40,220.40 L648.54,220.90 L648.68,221.40 L648.81,221.90 L648.94,222.40 L649.07,222.90 L649.20,223.40 L649.33,223.90 L649.45,224.40 L649.58,224.90 L649.71,225.40 L649.85,225.90 L649.98,226.40 L650.12,226.90 L650.27,227.40 L650.42,227.90 L650.58,228.40 L650.74,228.90 L650.92,229.40 L651.10,229.90 L651.29,230.40 L651.49,230.90 L651.71,231.40 L651.93,231.90 L652.17,232.40 L652.42,232.90 L652.69,233.40 L652.98,233.90 L653.27,234.40 L653.59,234.90 L653.92,235.40 L654.27,235.90 L654.64,236.40 L655.02,236.90 L655.41,237.40 L655.81,237.90 L656.22,238.40 L656.64,238.90 L657.06,239.40 L657.49,239.90 L657.92,240.40 L658.35,240.90 L658.78,241.40 L659.20,241.90 L659.63,242.40 L660.05,242.90 L660.46,243.40 L660.86,243.90 L661.26,244.40 L661.64,244.90 L662.01,245.40 L662.36,245.90 L662.70,246.40 L663.02,246.90 L663.32,247.40 L663.60,247.90 L663.85,248.40 L664.09,248.90 L664.30,249.40 L664.48,249.90 L664.63,250.40 L664.75,250.90 L664.84,251.40 L664.91,251.90 L664.95,252.40 L664.96,252.90 L664.94,253.40 L664.90,253.90 L664.83,254.40 L664.73,254.90 L664.61,255.40 L664.46,255.90 L664.29,256.40 L664.09,256.90 L663.87,257.40 L663.63,257.90 L663.36,258.40 L663.07,258.90 L662.75,259.40 L662.41,259.90 L662.05,260.40 L661.67,260.90 L661.27,261.40 L660.84,261.90 L660.40,262.40 L659.93,262.90 L659.44,263.40 L658.94,263.90 L658.41,264.40 L657.86,264.90 L657.30,265.40 L656.72,265.90 L656.12,266.40 L655.51,266.90 L654.88,267.40 L654.25,267.90 L653.61,268.40 L652.96,268.90 L652.30,269.40 L651.65,269.90 L650.99,270.40 L650.33,270.90 L649.67,271.40 L649.01,271.90 L648.37,272.40 L647.72,272.90 L647.09,273.40 L646.47,273.90 L645.86,274.40 L645.26,274.90 L644.68,275.40 L644.12,275.90 L643.57,276.40 L643.03,276.90 L642.51,277.40 L642.01,277.90 L641.51,278.40 L641.03,278.90 L640.57,279.40 L640.11,279.90 L639.67,280.40 L639.24,280.90 L638.81,281.40 L638.40,281.90 L638.00,282.40 L637.61,282.90 L637.22,283.40 L636.85,283.90 L636.48,284.40 L636.12,284.90 L635.76,285.40 L635.42,285.90 L635.07,286.40 L634.74,286.90 L634.41,287.40 L634.08,287.90 L633.76,288.40 L633.44,288.90 L633.12,289.40 L632.81,289.90 L632.50,290.40 L632.19,290.90 L631.88,291.40 L631.58,291.90 L631.27,292.40 L630.98,292.90 L630.68,293.40 L630.38,293.90 L630.09,294.40 L629.81,294.90 L629.52,295.40 L629.24,295.90 L628.96,296.40 L628.69,296.90 L628.42,297.40 L628.15,297.90 L627.88,298.40 L627.63,298.90 L627.37,299.40 L627.12,299.90 L626.87,300.40 L626.63,300.90 L626.39,301.40 L626.16,301.90 L625.94,302.40 L625.72,302.90 L625.51,303.40 L625.31,303.90 L625.12,304.40 L624.94,304.90 L624.76,305.40 L624.60,305.90 L624.45,306.40 L624.30,306.90 L624.17,307.40 L624.05,307.90 L623.93,308.40 L623.83,308.90 L623.74,309.40 L623.65,309.90 L623.58,310.40 L623.51,310.90 L623.45,311.40 L623.40,311.90 L623.36,312.40 L623.32,312.90 L623.29,313.40 L623.27,313.90 L623.24,314.40 L623.23,314.90 L623.21,315.40 L623.20,315.90 L623.18,316.40 L623.17,316.90 L623.16,317.40 L623.15,317.90 L623.15,318.40 L623.14,318.90 L623.13,319.40 L623.13,319.90 L623.12,320.40 L623.12,320.90 L623.11,321.40 L623.11,321.90 L623.11,322.40 L623.10,322.90 L623.10,323.40 L623.10,323.90 L623.09,324.40 L623.09,324.90 L623.09,325.40 L623.08,325.90 L623.08,326.40 L623.08,326.90 L623.07,327.40 L623.07,327.90 L623.06,328.40 L623.05,328.90 L623.04,329.40 L623.04,329.90 L623.04,330.40 L623.04,330.90 L623.04,331.40 L623.04,331.90 L623.04,332.40 L623.04,332.50 L622.96,332.50 L622.96,332.40 L622.96,331.90 L622.96,331.40 L622.96,330.90 L622.96,330.40 L622.96,329.90 L622.96,329.40 L622.95,328.90 L622.94,328.40 L622.93,327.90 L622.93,327.40 L622.92,326.90 L622.92,326.40 L622.92,325.90 L622.91,325.40 L622.91,324.90 L622.91,324.40 L622.90,323.90 L622.90,323.40 L622.90,322.90 L622.89,322.40 L622.89,321.90 L622.89,321.40 L622.88,320.90 L622.88,320.40 L622.87,319.90 L622.87,319.40 L622.86,318.90 L622.85,318.40 L622.85,317.90 L622.84,317.40 L622.83,316.90 L622.82,316.40 L622.80,315.90 L622.79,315.40 L622.77,314.90 L622.76,314.40 L622.73,313.90 L622.71,313.40 L622.68,312.90 L622.64,312.40 L622.60,311.90 L622.55,311.40 L622.49,310.90 L622.42,310.40 L622.35,309.90 L622.26,309.40 L622.17,308.90 L622.07,308.40 L621.95,307.90 L621.83,307.40 L621.70,306.90 L621.55,306.40 L621.40,305.90 L621.24,305.40 L621.06,304.90 L620.88,304.40 L620.69,303.90 L620.49,303.40 L620.28,302.90 L620.06,302.40 L619.84,301.90 L619.61,301.40 L619.37,300.90 L619.13,300.40 L618.88,299.90 L618.63,299.40 L618.37,298.90 L618.12,298.40 L617.85,297.90 L617.58,297.40 L617.31,296.90 L617.04,296.40 L616.76,295.90 L616.48,295.40 L616.19,294.90 L615.91,294.40 L615.62,293.90 L615.32,293.40 L615.02,292.90 L614.73,292.40 L614.42,291.90 L614.12,291.40 L613.81,290.90 L613.50,290.40 L613.19,289.90 L612.88,289.40 L612.56,288.90 L612.24,288.40 L611.92,287.90 L611.59,287.40 L611.26,286.90 L610.93,286.40 L610.58,285.90 L610.24,285.40 L609.88,284.90 L609.52,284.40 L609.15,283.90 L608.78,283.40 L608.39,282.90 L608.00,282.40 L607.60,281.90 L607.19,281.40 L606.76,280.90 L606.33,280.40 L605.89,279.90 L605.43,279.40 L604.97,278.90 L604.49,278.40 L603.99,277.90 L603.49,277.40 L602.97,276.90 L602.43,276.40 L601.88,275.90 L601.32,275.40 L600.74,274.90 L600.14,274.40 L599.53,273.90 L598.91,273.40 L598.28,272.90 L597.63,272.40 L596.99,271.90 L596.33,271.40 L595.67,270.90 L595.01,270.40 L594.35,269.90 L593.70,269.40 L593.04,268.90 L592.39,268.40 L591.75,267.90 L591.12,267.40 L590.49,266.90 L589.88,266.40 L589.28,265.90 L588.70,265.40 L588.14,264.90 L587.59,264.40 L587.06,263.90 L586.56,263.40 L586.07,262.90 L585.60,262.40 L585.16,261.90 L584.73,261.40 L584.33,260.90 L583.95,260.40 L583.59,259.90 L583.25,259.40 L582.93,258.90 L582.64,258.40 L582.37,257.90 L582.13,257.40 L581.91,256.90 L581.71,256.40 L581.54,255.90 L581.39,255.40 L581.27,254.90 L581.17,254.40 L581.10,253.90 L581.06,253.40 L581.04,252.90 L581.05,252.40 L581.09,251.90 L581.16,251.40 L581.25,250.90 L581.37,250.40 L581.52,249.90 L581.70,249.40 L581.91,248.90 L582.15,248.40 L582.40,247.90 L582.68,247.40 L582.98,246.90 L583.30,246.40 L583.64,245.90 L583.99,245.40 L584.36,244.90 L584.74,244.40 L585.14,243.90 L585.54,243.40 L585.95,242.90 L586.37,242.40 L586.80,241.90 L587.22,241.40 L587.65,240.90 L588.08,240.40 L588.51,239.90 L588.94,239.40 L589.36,238.90 L589.78,238.40 L590.19,237.90 L590.59,237.40 L590.98,236.90 L591.36,236.40 L591.73,235.90 L592.08,235.40 L592.41,234.90 L592.73,234.40 L593.02,233.90 L593.31,233.40 L593.58,232.90 L593.83,232.40 L594.07,231.90 L594.29,231.40 L594.51,230.90 L594.71,230.40 L594.90,229.90 L595.08,229.40 L595.26,228.90 L595.42,228.40 L595.58,227.90 L595.73,227.40 L595.88,226.90 L596.02,226.40 L596.15,225.90 L596.29,225.40 L596.42,224.90 L596.55,224.40 L596.67,223.90 L596.80,223.40 L596.93,222.90 L597.06,222.40 L597.19,221.90 L597.32,221.40 L597.46,220.90 L597.60,220.40 L597.75,219.90 L597.91,219.40 L598.07,218.90 L598.23,218.40 L598.41,217.90 L598.59,217.40 L598.77,216.90 L598.97,216.40 L599.17,215.90 L599.38,215.40 L599.59,214.90 L599.82,214.40 L600.05,213.90 L600.29,213.40 L600.54,212.90 L600.79,212.40 L601.05,211.90 L601.33,211.40 L601.61,210.90 L601.90,210.40 L602.20,209.90 L602.51,209.40 L602.82,208.90 L603.15,208.40 L603.48,207.90 L603.82,207.40 L604.16,206.90 L604.51,206.40 L604.87,205.90 L605.23,205.40 L605.59,204.90 L605.96,204.40 L606.33,203.90 L606.70,203.40 L607.07,202.90 L607.44,202.40 L607.81,201.90 L608.18,201.40 L608.55,200.90 L608.92,200.40 L609.29,199.90 L609.65,199.40 L610.01,198.90 L610.37,198.40 L610.72,197.90 L611.07,197.40 L611.40,196.90 L611.74,196.40 L612.06,195.90 L612.38,195.40 L612.69,194.90 L612.99,194.40 L613.28,193.90 L613.57,193.40 L613.84,192.90 L614.11,192.40 L614.37,191.90 L614.62,191.40 L614.86,190.90 L615.09,190.40 L615.32,189.90 L615.54,189.40 L615.75,188.90 L615.95,188.40 L616.14,187.90 L616.33,187.40 L616.51,186.90 L616.68,186.40 L616.85,185.90 L617.01,185.40 L617.16,184.90 L617.31,184.40 L617.44,183.90 L617.58,183.40 L617.70,182.90 L617.82,182.40 L617.93,181.90 L618.04,181.40 L618.14,180.90 L618.23,180.40 L618.32,179.90 L618.40,179.40 L618.48,178.90 L618.55,178.40 L618.61,177.90 L618.67,177.40 L618.72,176.90 L618.77,176.40 L618.82,175.90 L618.86,175.40 L618.89,174.90 L618.92,174.40 L618.94,173.90 L618.96,173.40 L618.98,172.90 L618.99,172.40 L618.99,171.90 L618.99,171.40 L618.99,170.90 L618.98,170.40 L618.97,169.90 L618.96,169.40 L618.94,168.90 L618.92,168.40 L618.90,167.90 L618.87,167.40 L618.85,166.90 L618.82,166.40 L618.80,165.90 L618.77,165.40 L618.74,164.90 L618.72,164.40 L618.69,163.90 L618.67,163.40 L618.65,162.90 L618.64,162.40 L618.63,161.90 L618.62,161.40 L618.61,160.90 L618.62,160.40 L618.62,159.90 L618.64,159.40 L618.65,158.90 L618.68,158.40 L618.71,157.90 L618.74,157.40 L618.78,156.90 L618.83,156.40 L618.88,155.90 L618.93,155.40 L618.99,154.90 L619.05,154.40 L619.12,153.90 L619.19,153.40 L619.26,152.90 L619.34,152.40 L619.42,151.90 L619.50,151.40 L619.59,150.90 L619.68,150.40 L619.77,149.90 L619.86,149.40 L619.96,148.90 L620.06,148.40 L620.16,147.90 L620.26,147.40 L620.36,146.90 L620.46,146.40 L620.57,145.90 L620.68,145.40 L620.78,144.90 L620.89,144.40 L621.00,143.90 L621.11,143.40 L621.21,142.90 L621.32,142.40 L621.43,141.90 L621.53,141.40 L621.63,140.90 L621.73,140.40 L621.83,139.90 L621.93,139.40 L622.02,138.90 L622.11,138.40 L622.19,137.90 L622.28,137.40 L622.35,136.90 L622.42,136.40 L622.49,135.90 L622.55,135.40 L622.61,134.90 L622.66,134.40 L622.70,133.90 L622.74,133.40 L622.78,132.90 L622.81,132.40 L622.83,131.90 L622.85,131.40 L622.87,130.90 L622.88,130.40 L622.89,129.90 L622.90,129.40 L622.90,128.90 L622.90,128.40 L622.90,127.90 L622.90,127.40 L622.90,126.90 L622.89,126.40 L622.88,125.90 L622.88,125.40 L622.87,124.90 L622.86,124.40 L622.85,123.90 L622.85,123.40 L622.84,122.90 L622.84,122.40 L622.83,121.90 L622.83,121.40 L622.83,120.90 L622.83,120.40 L622.83,119.90 L622.84,119.40 L622.85,118.90 L622.86,118.40 L622.88,117.90 L622.90,117.40 L622.93,116.90 L622.96,116.40 L622.96,115.90 L622.96,115.40 Z" fill="#F9BF00" stroke="#000" stroke-width="1.25" stroke-linejoin="round"/>
<line x1="623.00" y1="190.50" x2="623.00" y2="288.50" stroke="#000" stroke-width="1.15"/>
<rect x="612.80" y="221.40" width="20.40" height="39.60" fill="#fff" stroke="#111" stroke-width="1.15"/>
<line x1="612.80" y1="247.00" x2="633.20" y2="247.00" stroke="#222" stroke-width="1.6"/>

<rect x="46.5" y="0.5" width="638" height="352.5" fill="none" stroke="#222" stroke-width="1.15"/>
<line x1="42.3" y1="312.42" x2="46.5" y2="312.42" stroke="#333" stroke-width="1.1"/>
<text x="40.6" y="316.32" text-anchor="end" font-size="10.8">400</text>
<line x1="42.3" y1="263.00" x2="46.5" y2="263.00" stroke="#333" stroke-width="1.1"/>
<text x="40.6" y="266.90" text-anchor="end" font-size="10.8">600</text>
<line x1="42.3" y1="213.58" x2="46.5" y2="213.58" stroke="#333" stroke-width="1.1"/>
<text x="40.6" y="217.48" text-anchor="end" font-size="10.8">800</text>
<line x1="42.3" y1="164.16" x2="46.5" y2="164.16" stroke="#333" stroke-width="1.1"/>
<text x="40.6" y="168.06" text-anchor="end" font-size="10.8">1000</text>
<line x1="42.3" y1="114.74" x2="46.5" y2="114.74" stroke="#333" stroke-width="1.1"/>
<text x="40.6" y="118.64" text-anchor="end" font-size="10.8">1200</text>
<line x1="42.3" y1="65.32" x2="46.5" y2="65.32" stroke="#333" stroke-width="1.1"/>
<text x="40.6" y="69.22" text-anchor="end" font-size="10.8">1400</text>
<line x1="42.3" y1="15.90" x2="46.5" y2="15.90" stroke="#333" stroke-width="1.1"/>
<text x="40.6" y="19.80" text-anchor="end" font-size="10.8">1600</text>
<path d="M106.90,26.80 L106.90,21.50 L314.80,21.50 L314.80,26.80" fill="none" stroke="#000" stroke-width="1.3" stroke-linejoin="miter"/>
<path d="M107.10,51.60 L107.10,46.10 L210.90,46.10 L210.90,51.60" fill="none" stroke="#000" stroke-width="1.3" stroke-linejoin="miter"/>
<path d="M418.10,26.60 L418.10,21.40 L621.60,21.40 L621.60,26.60" fill="none" stroke="#000" stroke-width="1.3" stroke-linejoin="miter"/>
<path d="M416.90,51.80 L416.90,46.10 L517.00,46.10 L517.00,51.80" fill="none" stroke="#000" stroke-width="1.3" stroke-linejoin="miter"/>
<path d="M523.50,51.80 L523.50,45.90 L622.20,45.90 L622.20,51.80" fill="none" stroke="#000" stroke-width="1.3" stroke-linejoin="miter"/>
<text x="210.9" y="15.9" text-anchor="middle" font-size="11.6">p = 0.004</text>
<text x="159.0" y="40.9" text-anchor="middle" font-size="11.6">p = 0.004</text>
<text x="520.3" y="15.4" text-anchor="middle" font-size="11.6">p &lt; 0.001</text>
<text x="468.0" y="40.8" text-anchor="middle" font-size="11.6">p &lt; 0.001</text>
<text x="573.0" y="40.8" text-anchor="middle" font-size="11.6">p = 0.011</text>
<text x="107.60" y="368.2" text-anchor="middle" font-size="12.4">25–49</text>
<text x="107.60" y="383.0" text-anchor="middle" font-size="12.4">(n = 22)</text>
<text x="210.63" y="368.2" text-anchor="middle" font-size="12.4">50–74</text>
<text x="210.63" y="383.0" text-anchor="middle" font-size="12.4">(n = 54)</text>
<text x="313.66" y="368.2" text-anchor="middle" font-size="12.4">&gt;75</text>
<text x="313.66" y="383.0" text-anchor="middle" font-size="12.4">(n = 25)</text>
<text x="416.69" y="368.2" text-anchor="middle" font-size="12.4">25–49</text>
<text x="416.69" y="383.0" text-anchor="middle" font-size="12.4">(n = 33)</text>
<text x="519.72" y="368.2" text-anchor="middle" font-size="12.4">50–74</text>
<text x="519.72" y="383.0" text-anchor="middle" font-size="12.4">(n = 69)</text>
<text x="622.75" y="368.2" text-anchor="middle" font-size="12.4">&gt;75</text>
<text x="622.75" y="383.0" text-anchor="middle" font-size="12.4">(n = 22)</text>
<rect x="68.7" y="298.1" width="19.2" height="14.9" fill="#00CCFF"/>
<rect x="68.7" y="319.8" width="19.2" height="14.9" fill="#F9BF00"/>
<text x="92.1" y="310.4" font-size="12.2">Male</text>
<text x="92.1" y="331.5" font-size="12.4">Female</text>
<text x="366.9" y="403" text-anchor="middle" font-size="13.5">Age categories (years)</text>
<text transform="translate(10.1,163.8) rotate(-90)" text-anchor="middle" font-size="13.5">AI-BMD (mg/cm<tspan font-size="9" dy="-4.5">2</tspan><tspan dy="4.5">)</tspan></text>
</svg>
</body></html>
